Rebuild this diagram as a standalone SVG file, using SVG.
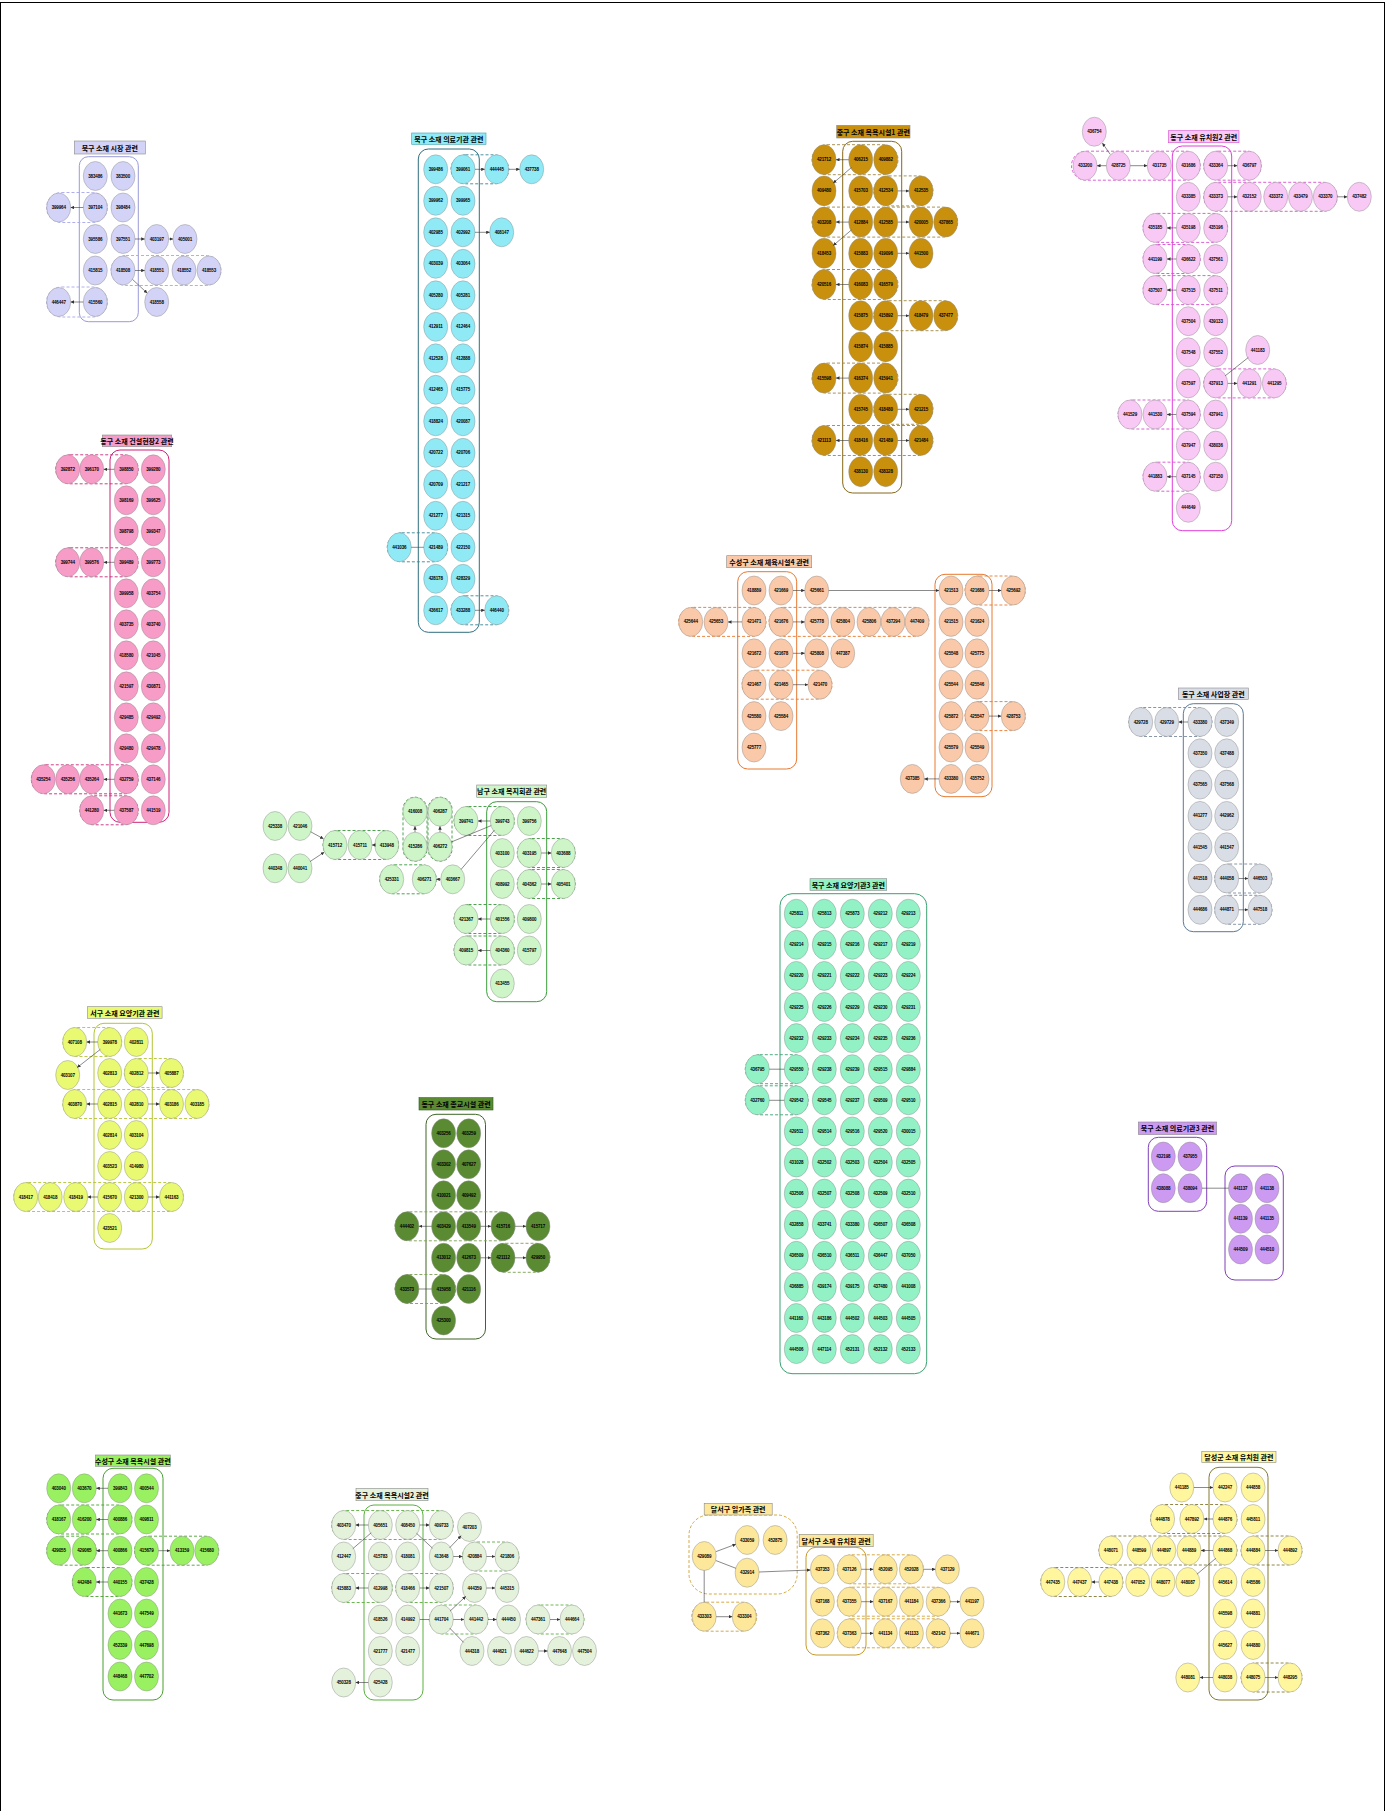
<svg xmlns="http://www.w3.org/2000/svg" width="1392" height="1811" viewBox="0 0 1392 1811">
<style>
text{font-family:"Liberation Sans",Arial,sans-serif;font-size:4.5px;font-weight:700;text-anchor:middle;dominant-baseline:central;fill:#000;letter-spacing:-0.15px}
text.lt{font-family:"Noto Sans CJK KR","Noto Sans",sans-serif;font-size:7px;font-weight:700;letter-spacing:0}
ellipse{stroke:#8c8c8c;stroke-width:0.45}
.lb{stroke:#8a8a8a;stroke-width:0.6}
.sr{fill:none;stroke-width:1}
.dr{fill:none;stroke-width:0.9;stroke-dasharray:3 2}
.e{stroke:#3a3a3a;stroke-width:0.6;fill:none}
.a{marker-end:url(#ar)}
.k1 ellipse,.k1 .lb{fill:#d3d3f7}.k1 .sr{stroke:#9a9ad8}.k1 .dr{stroke:#a6a6ec}
.k2 ellipse,.k2 .lb{fill:#8feaf6}.k2 .sr{stroke:#2f6f7f}.k2 .dr{stroke:#3a8696}.k2 .lb{stroke:#3aa0b0}
.k3 ellipse,.k3 .lb{fill:#c8900c}.k3 .sr{stroke:#86681a}.k3 .dr{stroke:#a08844}
.k4 ellipse,.k4 .lb{fill:#f9c9f5}.k4 .sr{stroke:#e03ed8}.k4 .dr{stroke:#d84ed0}.k4 .lb{stroke:#d84ed0}
.k5 ellipse,.k5 .lb{fill:#f79bc7}.k5 .sr{stroke:#d0207a}.k5 .dr{stroke:#c8287a}
.k6 ellipse,.k6 .lb{fill:#fac9a9}.k6 .sr{stroke:#e8782e}.k6 .dr{stroke:#e8782e}
.k7 ellipse,.k7 .lb{fill:#d9dde6}.k7 .sr{stroke:#5a7898}.k7 .dr{stroke:#7a8aa0}
.k8 ellipse,.k8 .lb{fill:#cdf5c8}.k8 .sr{stroke:#3a9a3a}.k8 .dr{stroke:#3a9a3a}
.k9 ellipse,.k9 .lb{fill:#92f2c6}.k9 .sr{stroke:#3aa070}.k9 .dr{stroke:#3aa070}
.k10 ellipse,.k10 .lb{fill:#e9f972}.k10 .sr{stroke:#b4c438}.k10 .dr{stroke:#b4c438}
.k11 ellipse,.k11 .lb{fill:#5a8a32}.k11 .sr{stroke:#3e6626}.k11 .dr{stroke:#7aa050}
.k12 ellipse,.k12 .lb{fill:#cc9af0}.k12 .sr{stroke:#8040b8}.k12 .dr{stroke:#8040b8}
.k13 ellipse,.k13 .lb{fill:#99f061}.k13 .sr{stroke:#48a030}.k13 .dr{stroke:#48a030}
.k14 ellipse,.k14 .lb{fill:#e4f2dc}.k14 .sr{stroke:#5ab040}.k14 .dr{stroke:#5ab040}
.k15 ellipse,.k15 .lb{fill:#fde79b}.k15 .sr{stroke:#c89a28}.k15 .dr{stroke:#d0a030}
.k16 ellipse,.k16 .lb{fill:#fff69e}.k16 .sr{stroke:#857a32}.k16 .dr{stroke:#857a32}
</style>
<defs>
<marker id="ar" viewBox="0 0 6 6" refX="6" refY="3" markerWidth="3.5" markerHeight="3.5" orient="auto" markerUnits="userSpaceOnUse"><path d="M0,0L6,3L0,6z" fill="#333"/></marker>
</defs>
<rect x="0" y="0" width="1392" height="1811" fill="#ffffff"/>
<rect x="0.5" y="2.5" width="1384" height="1830" fill="none" stroke="#000" stroke-width="1"/>

<g id="cluster-1" class="k1">
<rect class="sr" x="79.3" y="156.7" width="59" height="165" rx="9"/>
<rect class="dr" x="46.5" y="192.5" width="61" height="30" rx="15"/>
<rect class="dr" x="111" y="255.5" width="110" height="30" rx="15"/>
<rect class="dr" x="46.5" y="287" width="61" height="30" rx="15"/>
<rect class="lb" x="74.3" y="141" width="71" height="13"/><text class="lt" x="109.8" y="147.5">북구 소재 시장 관련</text>
<g id="c1-383486"><ellipse cx="95.3" cy="176" rx="12" ry="14.5"/><text x="95.3" y="176">383486</text></g>
<g id="c1-383500"><ellipse cx="123" cy="176" rx="12" ry="14.5"/><text x="123" y="176">383500</text></g>
<g id="c1-399964"><ellipse cx="58.7" cy="207.5" rx="12" ry="14.5"/><text x="58.7" y="207.5">399964</text></g>
<g id="c1-397104"><ellipse cx="95.3" cy="207.5" rx="12" ry="14.5"/><text x="95.3" y="207.5">397104</text></g>
<g id="c1-398484"><ellipse cx="123" cy="207.5" rx="12" ry="14.5"/><text x="123" y="207.5">398484</text></g>
<g id="c1-395586"><ellipse cx="95.3" cy="239" rx="12" ry="14.5"/><text x="95.3" y="239">395586</text></g>
<g id="c1-397551"><ellipse cx="123" cy="239" rx="12" ry="14.5"/><text x="123" y="239">397551</text></g>
<g id="c1-403197"><ellipse cx="156.7" cy="239" rx="12" ry="14.5"/><text x="156.7" y="239">403197</text></g>
<g id="c1-405001"><ellipse cx="185" cy="239" rx="12" ry="14.5"/><text x="185" y="239">405001</text></g>
<g id="c1-415815"><ellipse cx="95.3" cy="270.5" rx="12" ry="14.5"/><text x="95.3" y="270.5">415815</text></g>
<g id="c1-418508"><ellipse cx="123" cy="270.5" rx="12" ry="14.5"/><text x="123" y="270.5">418508</text></g>
<g id="c1-418551"><ellipse cx="156.7" cy="270.5" rx="12" ry="14.5"/><text x="156.7" y="270.5">418551</text></g>
<g id="c1-418552"><ellipse cx="184" cy="270.5" rx="12" ry="14.5"/><text x="184" y="270.5">418552</text></g>
<g id="c1-418553"><ellipse cx="209" cy="270.5" rx="12" ry="14.5"/><text x="209" y="270.5">418553</text></g>
<g id="c1-446447"><ellipse cx="58.7" cy="302" rx="12" ry="14.5"/><text x="58.7" y="302">446447</text></g>
<g id="c1-415560"><ellipse cx="95.3" cy="302" rx="12" ry="14.5"/><text x="95.3" y="302">415560</text></g>
<g id="c1-418558"><ellipse cx="156.7" cy="302" rx="12" ry="14.5"/><text x="156.7" y="302">418558</text></g>
</g>

<g id="cluster-2" class="k2">
<rect class="sr" x="418.3" y="149" width="61" height="483.3" rx="10"/>
<rect class="dr" x="451" y="154.8" width="57.7" height="29" rx="14.5"/>
<rect class="dr" x="387.3" y="532.8" width="60.4" height="29" rx="14.5"/>
<rect class="dr" x="451" y="595.8" width="57.7" height="29" rx="14.5"/>
<rect class="lb" x="411.7" y="133" width="74.3" height="11.3"/><text class="lt" x="448.8" y="138.7">북구 소재 의료기관 관련</text>
<g id="c2-399486"><ellipse cx="435.7" cy="169.3" rx="12" ry="14.5"/><text x="435.7" y="169.3">399486</text></g>
<g id="c2-399061"><ellipse cx="463" cy="169.3" rx="12" ry="14.5"/><text x="463" y="169.3">399061</text></g>
<g id="c2-444445"><ellipse cx="496.7" cy="169.3" rx="12" ry="14.5"/><text x="496.7" y="169.3">444445</text></g>
<g id="c2-437738"><ellipse cx="531.7" cy="169.3" rx="12" ry="14.5"/><text x="531.7" y="169.3">437738</text></g>
<g id="c2-399962"><ellipse cx="435.7" cy="200.8" rx="12" ry="14.5"/><text x="435.7" y="200.8">399962</text></g>
<g id="c2-399965"><ellipse cx="463" cy="200.8" rx="12" ry="14.5"/><text x="463" y="200.8">399965</text></g>
<g id="c2-402985"><ellipse cx="435.7" cy="232.3" rx="12" ry="14.5"/><text x="435.7" y="232.3">402985</text></g>
<g id="c2-402992"><ellipse cx="463" cy="232.3" rx="12" ry="14.5"/><text x="463" y="232.3">402992</text></g>
<g id="c2-408147"><ellipse cx="501.7" cy="232.3" rx="12" ry="14.5"/><text x="501.7" y="232.3">408147</text></g>
<g id="c2-403039"><ellipse cx="435.7" cy="263.8" rx="12" ry="14.5"/><text x="435.7" y="263.8">403039</text></g>
<g id="c2-403064"><ellipse cx="463" cy="263.8" rx="12" ry="14.5"/><text x="463" y="263.8">403064</text></g>
<g id="c2-405280"><ellipse cx="435.7" cy="295.3" rx="12" ry="14.5"/><text x="435.7" y="295.3">405280</text></g>
<g id="c2-405281"><ellipse cx="463" cy="295.3" rx="12" ry="14.5"/><text x="463" y="295.3">405281</text></g>
<g id="c2-412911"><ellipse cx="435.7" cy="326.8" rx="12" ry="14.5"/><text x="435.7" y="326.8">412911</text></g>
<g id="c2-412464"><ellipse cx="463" cy="326.8" rx="12" ry="14.5"/><text x="463" y="326.8">412464</text></g>
<g id="c2-412528"><ellipse cx="435.7" cy="358.3" rx="12" ry="14.5"/><text x="435.7" y="358.3">412528</text></g>
<g id="c2-412888"><ellipse cx="463" cy="358.3" rx="12" ry="14.5"/><text x="463" y="358.3">412888</text></g>
<g id="c2-412465"><ellipse cx="435.7" cy="389.8" rx="12" ry="14.5"/><text x="435.7" y="389.8">412465</text></g>
<g id="c2-415775"><ellipse cx="463" cy="389.8" rx="12" ry="14.5"/><text x="463" y="389.8">415775</text></g>
<g id="c2-418824"><ellipse cx="435.7" cy="421.3" rx="12" ry="14.5"/><text x="435.7" y="421.3">418824</text></g>
<g id="c2-420087"><ellipse cx="463" cy="421.3" rx="12" ry="14.5"/><text x="463" y="421.3">420087</text></g>
<g id="c2-420722"><ellipse cx="435.7" cy="452.8" rx="12" ry="14.5"/><text x="435.7" y="452.8">420722</text></g>
<g id="c2-420706"><ellipse cx="463" cy="452.8" rx="12" ry="14.5"/><text x="463" y="452.8">420706</text></g>
<g id="c2-420709"><ellipse cx="435.7" cy="484.3" rx="12" ry="14.5"/><text x="435.7" y="484.3">420709</text></g>
<g id="c2-421217"><ellipse cx="463" cy="484.3" rx="12" ry="14.5"/><text x="463" y="484.3">421217</text></g>
<g id="c2-421277"><ellipse cx="435.7" cy="515.8" rx="12" ry="14.5"/><text x="435.7" y="515.8">421277</text></g>
<g id="c2-421315"><ellipse cx="463" cy="515.8" rx="12" ry="14.5"/><text x="463" y="515.8">421315</text></g>
<g id="c2-441036"><ellipse cx="399.3" cy="547.3" rx="12" ry="14.5"/><text x="399.3" y="547.3">441036</text></g>
<g id="c2-421489"><ellipse cx="435.7" cy="547.3" rx="12" ry="14.5"/><text x="435.7" y="547.3">421489</text></g>
<g id="c2-422150"><ellipse cx="463" cy="547.3" rx="12" ry="14.5"/><text x="463" y="547.3">422150</text></g>
<g id="c2-428178"><ellipse cx="435.7" cy="578.8" rx="12" ry="14.5"/><text x="435.7" y="578.8">428178</text></g>
<g id="c2-428329"><ellipse cx="463" cy="578.8" rx="12" ry="14.5"/><text x="463" y="578.8">428329</text></g>
<g id="c2-436617"><ellipse cx="435.7" cy="610.3" rx="12" ry="14.5"/><text x="435.7" y="610.3">436617</text></g>
<g id="c2-433288"><ellipse cx="463" cy="610.3" rx="12" ry="14.5"/><text x="463" y="610.3">433288</text></g>
<g id="c2-446440"><ellipse cx="496.7" cy="610.3" rx="12" ry="14.5"/><text x="496.7" y="610.3">446440</text></g>
</g>

<g id="cluster-3" class="k3">
<rect class="sr" x="842.7" y="141.3" width="59" height="351.7" rx="10"/>
<rect class="dr" x="812" y="144.7" width="86" height="30" rx="15"/>
<rect class="dr" x="873.7" y="175.9" width="59.3" height="30" rx="15"/>
<rect class="dr" x="812" y="207.1" width="145.7" height="30" rx="15"/>
<rect class="dr" x="812" y="269.5" width="86" height="30" rx="15"/>
<rect class="dr" x="873.7" y="300.7" width="84" height="30" rx="15"/>
<rect class="dr" x="812" y="363.1" width="86" height="30" rx="15"/>
<rect class="dr" x="873.7" y="394.3" width="59.3" height="30" rx="15"/>
<rect class="dr" x="812" y="425.5" width="121" height="30" rx="15"/>
<rect class="lb" x="836.7" y="125.3" width="73.3" height="12.7"/><text class="lt" x="873.3" y="131.7">중구 소재 목욕시설1 관련</text>
<g id="c3-421712"><ellipse cx="824" cy="159.7" rx="12" ry="15"/><text x="824" y="159.7">421712</text></g>
<g id="c3-406215"><ellipse cx="860.7" cy="159.7" rx="12" ry="15"/><text x="860.7" y="159.7">406215</text></g>
<g id="c3-409882"><ellipse cx="885.7" cy="159.7" rx="12" ry="15"/><text x="885.7" y="159.7">409882</text></g>
<g id="c3-409480"><ellipse cx="824" cy="190.9" rx="12" ry="15"/><text x="824" y="190.9">409480</text></g>
<g id="c3-415703"><ellipse cx="860.7" cy="190.9" rx="12" ry="15"/><text x="860.7" y="190.9">415703</text></g>
<g id="c3-412534"><ellipse cx="885.7" cy="190.9" rx="12" ry="15"/><text x="885.7" y="190.9">412534</text></g>
<g id="c3-412535"><ellipse cx="921" cy="190.9" rx="12" ry="15"/><text x="921" y="190.9">412535</text></g>
<g id="c3-403208"><ellipse cx="824" cy="222.1" rx="12" ry="15"/><text x="824" y="222.1">403208</text></g>
<g id="c3-412884"><ellipse cx="860.7" cy="222.1" rx="12" ry="15"/><text x="860.7" y="222.1">412884</text></g>
<g id="c3-412585"><ellipse cx="885.7" cy="222.1" rx="12" ry="15"/><text x="885.7" y="222.1">412585</text></g>
<g id="c3-420005"><ellipse cx="921" cy="222.1" rx="12" ry="15"/><text x="921" y="222.1">420005</text></g>
<g id="c3-437865"><ellipse cx="945.7" cy="222.1" rx="12" ry="15"/><text x="945.7" y="222.1">437865</text></g>
<g id="c3-418453"><ellipse cx="824" cy="253.3" rx="12" ry="15"/><text x="824" y="253.3">418453</text></g>
<g id="c3-415883"><ellipse cx="860.7" cy="253.3" rx="12" ry="15"/><text x="860.7" y="253.3">415883</text></g>
<g id="c3-419096"><ellipse cx="885.7" cy="253.3" rx="12" ry="15"/><text x="885.7" y="253.3">419096</text></g>
<g id="c3-441500"><ellipse cx="921" cy="253.3" rx="12" ry="15"/><text x="921" y="253.3">441500</text></g>
<g id="c3-420516"><ellipse cx="824" cy="284.5" rx="12" ry="15"/><text x="824" y="284.5">420516</text></g>
<g id="c3-416083"><ellipse cx="860.7" cy="284.5" rx="12" ry="15"/><text x="860.7" y="284.5">416083</text></g>
<g id="c3-416579"><ellipse cx="885.7" cy="284.5" rx="12" ry="15"/><text x="885.7" y="284.5">416579</text></g>
<g id="c3-415875"><ellipse cx="860.7" cy="315.7" rx="12" ry="15"/><text x="860.7" y="315.7">415875</text></g>
<g id="c3-415892"><ellipse cx="885.7" cy="315.7" rx="12" ry="15"/><text x="885.7" y="315.7">415892</text></g>
<g id="c3-418479"><ellipse cx="921" cy="315.7" rx="12" ry="15"/><text x="921" y="315.7">418479</text></g>
<g id="c3-437477"><ellipse cx="945.7" cy="315.7" rx="12" ry="15"/><text x="945.7" y="315.7">437477</text></g>
<g id="c3-415874"><ellipse cx="860.7" cy="346.9" rx="12" ry="15"/><text x="860.7" y="346.9">415874</text></g>
<g id="c3-415885"><ellipse cx="885.7" cy="346.9" rx="12" ry="15"/><text x="885.7" y="346.9">415885</text></g>
<g id="c3-415598"><ellipse cx="824" cy="378.1" rx="12" ry="15"/><text x="824" y="378.1">415598</text></g>
<g id="c3-416374"><ellipse cx="860.7" cy="378.1" rx="12" ry="15"/><text x="860.7" y="378.1">416374</text></g>
<g id="c3-415941"><ellipse cx="885.7" cy="378.1" rx="12" ry="15"/><text x="885.7" y="378.1">415941</text></g>
<g id="c3-415745"><ellipse cx="860.7" cy="409.3" rx="12" ry="15"/><text x="860.7" y="409.3">415745</text></g>
<g id="c3-418480"><ellipse cx="885.7" cy="409.3" rx="12" ry="15"/><text x="885.7" y="409.3">418480</text></g>
<g id="c3-421215"><ellipse cx="921" cy="409.3" rx="12" ry="15"/><text x="921" y="409.3">421215</text></g>
<g id="c3-421113"><ellipse cx="824" cy="440.5" rx="12" ry="15"/><text x="824" y="440.5">421113</text></g>
<g id="c3-418416"><ellipse cx="860.7" cy="440.5" rx="12" ry="15"/><text x="860.7" y="440.5">418416</text></g>
<g id="c3-421489"><ellipse cx="885.7" cy="440.5" rx="12" ry="15"/><text x="885.7" y="440.5">421489</text></g>
<g id="c3-421484"><ellipse cx="921" cy="440.5" rx="12" ry="15"/><text x="921" y="440.5">421484</text></g>
<g id="c3-438130"><ellipse cx="860.7" cy="471.7" rx="12" ry="15"/><text x="860.7" y="471.7">438130</text></g>
<g id="c3-438328"><ellipse cx="885.7" cy="471.7" rx="12" ry="15"/><text x="885.7" y="471.7">438328</text></g>
</g>

<g id="cluster-4" class="k4">
<rect class="sr" x="1172.3" y="146" width="59.4" height="384.7" rx="10"/>
<rect class="dr" x="1071.5" y="151.2" width="128.8" height="29" rx="14.5"/>
<rect class="dr" x="1203.7" y="151.2" width="57.6" height="29" rx="14.5"/>
<rect class="dr" x="1203.7" y="182.3" width="133.6" height="29" rx="14.5"/>
<rect class="dr" x="1143" y="213.4" width="84.7" height="29" rx="14.5"/>
<rect class="dr" x="1143" y="244.5" width="57.3" height="29" rx="14.5"/>
<rect class="dr" x="1143" y="275.6" width="84.7" height="29" rx="14.5"/>
<rect class="dr" x="1203.7" y="368.9" width="82.6" height="29" rx="14.5"/>
<rect class="dr" x="1118" y="400" width="82.3" height="29" rx="14.5"/>
<rect class="dr" x="1143" y="462.2" width="57.3" height="29" rx="14.5"/>
<rect class="lb" x="1168.3" y="130.7" width="70.7" height="12"/><text class="lt" x="1203.7" y="136.7">동구 소재 유치원2 관련</text>
<g id="c4-436754"><ellipse cx="1094.3" cy="131.7" rx="12" ry="14.5"/><text x="1094.3" y="131.7">436754</text></g>
<g id="c4-433200"><ellipse cx="1085" cy="165.7" rx="12" ry="14.5"/><text x="1085" y="165.7">433200</text></g>
<g id="c4-428725"><ellipse cx="1118.3" cy="165.7" rx="12" ry="14.5"/><text x="1118.3" y="165.7">428725</text></g>
<g id="c4-431735"><ellipse cx="1159.3" cy="165.7" rx="12" ry="14.5"/><text x="1159.3" y="165.7">431735</text></g>
<g id="c4-431686"><ellipse cx="1188.3" cy="165.7" rx="12" ry="14.5"/><text x="1188.3" y="165.7">431686</text></g>
<g id="c4-433364"><ellipse cx="1215.7" cy="165.7" rx="12" ry="14.5"/><text x="1215.7" y="165.7">433364</text></g>
<g id="c4-436797"><ellipse cx="1249.3" cy="165.7" rx="12" ry="14.5"/><text x="1249.3" y="165.7">436797</text></g>
<g id="c4-433385"><ellipse cx="1188.3" cy="196.8" rx="12" ry="14.5"/><text x="1188.3" y="196.8">433385</text></g>
<g id="c4-433373"><ellipse cx="1215.7" cy="196.8" rx="12" ry="14.5"/><text x="1215.7" y="196.8">433373</text></g>
<g id="c4-432152"><ellipse cx="1249.3" cy="196.8" rx="12" ry="14.5"/><text x="1249.3" y="196.8">432152</text></g>
<g id="c4-433372"><ellipse cx="1275.7" cy="196.8" rx="12" ry="14.5"/><text x="1275.7" y="196.8">433372</text></g>
<g id="c4-433479"><ellipse cx="1300.5" cy="196.8" rx="12" ry="14.5"/><text x="1300.5" y="196.8">433479</text></g>
<g id="c4-433370"><ellipse cx="1325.3" cy="196.8" rx="12" ry="14.5"/><text x="1325.3" y="196.8">433370</text></g>
<g id="c4-437482"><ellipse cx="1359.3" cy="196.8" rx="12" ry="14.5"/><text x="1359.3" y="196.8">437482</text></g>
<g id="c4-435185"><ellipse cx="1155" cy="227.9" rx="12" ry="14.5"/><text x="1155" y="227.9">435185</text></g>
<g id="c4-435198"><ellipse cx="1188.3" cy="227.9" rx="12" ry="14.5"/><text x="1188.3" y="227.9">435198</text></g>
<g id="c4-435196"><ellipse cx="1215.7" cy="227.9" rx="12" ry="14.5"/><text x="1215.7" y="227.9">435196</text></g>
<g id="c4-441199"><ellipse cx="1155" cy="259" rx="12" ry="14.5"/><text x="1155" y="259">441199</text></g>
<g id="c4-436622"><ellipse cx="1188.3" cy="259" rx="12" ry="14.5"/><text x="1188.3" y="259">436622</text></g>
<g id="c4-437561"><ellipse cx="1215.7" cy="259" rx="12" ry="14.5"/><text x="1215.7" y="259">437561</text></g>
<g id="c4-437507"><ellipse cx="1155" cy="290.1" rx="12" ry="14.5"/><text x="1155" y="290.1">437507</text></g>
<g id="c4-437515"><ellipse cx="1188.3" cy="290.1" rx="12" ry="14.5"/><text x="1188.3" y="290.1">437515</text></g>
<g id="c4-437511"><ellipse cx="1215.7" cy="290.1" rx="12" ry="14.5"/><text x="1215.7" y="290.1">437511</text></g>
<g id="c4-437504"><ellipse cx="1188.3" cy="321.2" rx="12" ry="14.5"/><text x="1188.3" y="321.2">437504</text></g>
<g id="c4-439133"><ellipse cx="1215.7" cy="321.2" rx="12" ry="14.5"/><text x="1215.7" y="321.2">439133</text></g>
<g id="c4-437548"><ellipse cx="1188.3" cy="352.3" rx="12" ry="14.5"/><text x="1188.3" y="352.3">437548</text></g>
<g id="c4-437552"><ellipse cx="1215.7" cy="352.3" rx="12" ry="14.5"/><text x="1215.7" y="352.3">437552</text></g>
<g id="c4-441183"><ellipse cx="1257.7" cy="350" rx="12" ry="14.5"/><text x="1257.7" y="350">441183</text></g>
<g id="c4-437597"><ellipse cx="1188.3" cy="383.4" rx="12" ry="14.5"/><text x="1188.3" y="383.4">437597</text></g>
<g id="c4-437913"><ellipse cx="1215.7" cy="383.4" rx="12" ry="14.5"/><text x="1215.7" y="383.4">437913</text></g>
<g id="c4-441291"><ellipse cx="1249.3" cy="383.4" rx="12" ry="14.5"/><text x="1249.3" y="383.4">441291</text></g>
<g id="c4-441295"><ellipse cx="1274.3" cy="383.4" rx="12" ry="14.5"/><text x="1274.3" y="383.4">441295</text></g>
<g id="c4-441529"><ellipse cx="1130" cy="414.5" rx="12" ry="14.5"/><text x="1130" y="414.5">441529</text></g>
<g id="c4-441530"><ellipse cx="1155" cy="414.5" rx="12" ry="14.5"/><text x="1155" y="414.5">441530</text></g>
<g id="c4-437594"><ellipse cx="1188.3" cy="414.5" rx="12" ry="14.5"/><text x="1188.3" y="414.5">437594</text></g>
<g id="c4-437941"><ellipse cx="1215.7" cy="414.5" rx="12" ry="14.5"/><text x="1215.7" y="414.5">437941</text></g>
<g id="c4-437947"><ellipse cx="1188.3" cy="445.6" rx="12" ry="14.5"/><text x="1188.3" y="445.6">437947</text></g>
<g id="c4-438036"><ellipse cx="1215.7" cy="445.6" rx="12" ry="14.5"/><text x="1215.7" y="445.6">438036</text></g>
<g id="c4-441883"><ellipse cx="1155" cy="476.7" rx="12" ry="14.5"/><text x="1155" y="476.7">441883</text></g>
<g id="c4-437145"><ellipse cx="1188.3" cy="476.7" rx="12" ry="14.5"/><text x="1188.3" y="476.7">437145</text></g>
<g id="c4-437150"><ellipse cx="1215.7" cy="476.7" rx="12" ry="14.5"/><text x="1215.7" y="476.7">437150</text></g>
<g id="c4-444649"><ellipse cx="1188.3" cy="507.8" rx="12" ry="14.5"/><text x="1188.3" y="507.8">444649</text></g>
</g>

<g id="cluster-5" class="k5">
<rect class="sr" x="110" y="450" width="59" height="372.3" rx="10"/>
<rect class="dr" x="55.7" y="454.8" width="82.6" height="29" rx="14.5"/>
<rect class="dr" x="55.7" y="547.8" width="82.6" height="29" rx="14.5"/>
<rect class="dr" x="31.3" y="764.8" width="107" height="29" rx="14.5"/>
<rect class="dr" x="79.7" y="795.8" width="58.6" height="29" rx="14.5"/>
<rect class="lb" x="102.3" y="435" width="69.4" height="11.7"/><text class="lt" x="137" y="440.9">동구 소재 건설현장2 관련</text>
<g id="c5-392872"><ellipse cx="67.7" cy="469.3" rx="12" ry="14.5"/><text x="67.7" y="469.3">392872</text></g>
<g id="c5-396170"><ellipse cx="91.7" cy="469.3" rx="12" ry="14.5"/><text x="91.7" y="469.3">396170</text></g>
<g id="c5-398850"><ellipse cx="126.3" cy="469.3" rx="12" ry="14.5"/><text x="126.3" y="469.3">398850</text></g>
<g id="c5-399280"><ellipse cx="153.3" cy="469.3" rx="12" ry="14.5"/><text x="153.3" y="469.3">399280</text></g>
<g id="c5-398169"><ellipse cx="126.3" cy="500.3" rx="12" ry="14.5"/><text x="126.3" y="500.3">398169</text></g>
<g id="c5-399625"><ellipse cx="153.3" cy="500.3" rx="12" ry="14.5"/><text x="153.3" y="500.3">399625</text></g>
<g id="c5-398798"><ellipse cx="126.3" cy="531.3" rx="12" ry="14.5"/><text x="126.3" y="531.3">398798</text></g>
<g id="c5-399347"><ellipse cx="153.3" cy="531.3" rx="12" ry="14.5"/><text x="153.3" y="531.3">399347</text></g>
<g id="c5-399744"><ellipse cx="67.7" cy="562.3" rx="12" ry="14.5"/><text x="67.7" y="562.3">399744</text></g>
<g id="c5-399576"><ellipse cx="91.7" cy="562.3" rx="12" ry="14.5"/><text x="91.7" y="562.3">399576</text></g>
<g id="c5-399489"><ellipse cx="126.3" cy="562.3" rx="12" ry="14.5"/><text x="126.3" y="562.3">399489</text></g>
<g id="c5-399773"><ellipse cx="153.3" cy="562.3" rx="12" ry="14.5"/><text x="153.3" y="562.3">399773</text></g>
<g id="c5-399958"><ellipse cx="126.3" cy="593.3" rx="12" ry="14.5"/><text x="126.3" y="593.3">399958</text></g>
<g id="c5-403754"><ellipse cx="153.3" cy="593.3" rx="12" ry="14.5"/><text x="153.3" y="593.3">403754</text></g>
<g id="c5-403735"><ellipse cx="126.3" cy="624.3" rx="12" ry="14.5"/><text x="126.3" y="624.3">403735</text></g>
<g id="c5-403740"><ellipse cx="153.3" cy="624.3" rx="12" ry="14.5"/><text x="153.3" y="624.3">403740</text></g>
<g id="c5-418580"><ellipse cx="126.3" cy="655.3" rx="12" ry="14.5"/><text x="126.3" y="655.3">418580</text></g>
<g id="c5-421045"><ellipse cx="153.3" cy="655.3" rx="12" ry="14.5"/><text x="153.3" y="655.3">421045</text></g>
<g id="c5-421597"><ellipse cx="126.3" cy="686.3" rx="12" ry="14.5"/><text x="126.3" y="686.3">421597</text></g>
<g id="c5-430871"><ellipse cx="153.3" cy="686.3" rx="12" ry="14.5"/><text x="153.3" y="686.3">430871</text></g>
<g id="c5-429485"><ellipse cx="126.3" cy="717.3" rx="12" ry="14.5"/><text x="126.3" y="717.3">429485</text></g>
<g id="c5-429492"><ellipse cx="153.3" cy="717.3" rx="12" ry="14.5"/><text x="153.3" y="717.3">429492</text></g>
<g id="c5-429480"><ellipse cx="126.3" cy="748.3" rx="12" ry="14.5"/><text x="126.3" y="748.3">429480</text></g>
<g id="c5-429478"><ellipse cx="153.3" cy="748.3" rx="12" ry="14.5"/><text x="153.3" y="748.3">429478</text></g>
<g id="c5-435254"><ellipse cx="43.3" cy="779.3" rx="12" ry="14.5"/><text x="43.3" y="779.3">435254</text></g>
<g id="c5-435256"><ellipse cx="67.7" cy="779.3" rx="12" ry="14.5"/><text x="67.7" y="779.3">435256</text></g>
<g id="c5-435264"><ellipse cx="91.7" cy="779.3" rx="12" ry="14.5"/><text x="91.7" y="779.3">435264</text></g>
<g id="c5-432759"><ellipse cx="126.3" cy="779.3" rx="12" ry="14.5"/><text x="126.3" y="779.3">432759</text></g>
<g id="c5-437146"><ellipse cx="153.3" cy="779.3" rx="12" ry="14.5"/><text x="153.3" y="779.3">437146</text></g>
<g id="c5-441280"><ellipse cx="91.7" cy="810.3" rx="12" ry="14.5"/><text x="91.7" y="810.3">441280</text></g>
<g id="c5-437587"><ellipse cx="126.3" cy="810.3" rx="12" ry="14.5"/><text x="126.3" y="810.3">437587</text></g>
<g id="c5-441519"><ellipse cx="153.3" cy="810.3" rx="12" ry="14.5"/><text x="153.3" y="810.3">441519</text></g>
</g>

<g id="cluster-6" class="k6">
<rect class="sr" x="737.7" y="571.7" width="59" height="197.3" rx="10"/>
<rect class="sr" x="935" y="574.3" width="57" height="222.4" rx="10"/>
<rect class="dr" x="965" y="576" width="60.3" height="29" rx="14.5"/>
<rect class="dr" x="678.7" y="607.4" width="87.3" height="29" rx="14.5"/>
<rect class="dr" x="769" y="607.4" width="160" height="29" rx="14.5"/>
<rect class="dr" x="742" y="670.2" width="90" height="29" rx="14.5"/>
<rect class="dr" x="965" y="701.6" width="60.3" height="29" rx="14.5"/>
<rect class="lb" x="726.7" y="555.7" width="85" height="12"/><text class="lt" x="769.2" y="561.7">수성구 소재 체육시설4 관련</text>
<g id="c6-418889"><ellipse cx="754" cy="590.5" rx="12" ry="14.5"/><text x="754" y="590.5">418889</text></g>
<g id="c6-421669"><ellipse cx="781" cy="590.5" rx="12" ry="14.5"/><text x="781" y="590.5">421669</text></g>
<g id="c6-425661"><ellipse cx="816.7" cy="590.5" rx="12" ry="14.5"/><text x="816.7" y="590.5">425661</text></g>
<g id="c6-425644"><ellipse cx="690.7" cy="621.9" rx="12" ry="14.5"/><text x="690.7" y="621.9">425644</text></g>
<g id="c6-425653"><ellipse cx="716" cy="621.9" rx="12" ry="14.5"/><text x="716" y="621.9">425653</text></g>
<g id="c6-421471"><ellipse cx="754" cy="621.9" rx="12" ry="14.5"/><text x="754" y="621.9">421471</text></g>
<g id="c6-421676"><ellipse cx="781" cy="621.9" rx="12" ry="14.5"/><text x="781" y="621.9">421676</text></g>
<g id="c6-425778"><ellipse cx="816.7" cy="621.9" rx="12" ry="14.5"/><text x="816.7" y="621.9">425778</text></g>
<g id="c6-425804"><ellipse cx="842.7" cy="621.9" rx="12" ry="14.5"/><text x="842.7" y="621.9">425804</text></g>
<g id="c6-425806"><ellipse cx="869" cy="621.9" rx="12" ry="14.5"/><text x="869" y="621.9">425806</text></g>
<g id="c6-437294"><ellipse cx="893" cy="621.9" rx="12" ry="14.5"/><text x="893" y="621.9">437294</text></g>
<g id="c6-447409"><ellipse cx="917" cy="621.9" rx="12" ry="14.5"/><text x="917" y="621.9">447409</text></g>
<g id="c6-421672"><ellipse cx="754" cy="653.3" rx="12" ry="14.5"/><text x="754" y="653.3">421672</text></g>
<g id="c6-421678"><ellipse cx="781" cy="653.3" rx="12" ry="14.5"/><text x="781" y="653.3">421678</text></g>
<g id="c6-425808"><ellipse cx="816.7" cy="653.3" rx="12" ry="14.5"/><text x="816.7" y="653.3">425808</text></g>
<g id="c6-447387"><ellipse cx="842.7" cy="653.3" rx="12" ry="14.5"/><text x="842.7" y="653.3">447387</text></g>
<g id="c6-421467"><ellipse cx="754" cy="684.7" rx="12" ry="14.5"/><text x="754" y="684.7">421467</text></g>
<g id="c6-421465"><ellipse cx="781" cy="684.7" rx="12" ry="14.5"/><text x="781" y="684.7">421465</text></g>
<g id="c6-421470"><ellipse cx="820" cy="684.7" rx="12" ry="14.5"/><text x="820" y="684.7">421470</text></g>
<g id="c6-425580"><ellipse cx="754" cy="716.1" rx="12" ry="14.5"/><text x="754" y="716.1">425580</text></g>
<g id="c6-425584"><ellipse cx="781" cy="716.1" rx="12" ry="14.5"/><text x="781" y="716.1">425584</text></g>
<g id="c6-425777"><ellipse cx="754" cy="747.5" rx="12" ry="14.5"/><text x="754" y="747.5">425777</text></g>
<g id="c6-421513"><ellipse cx="951" cy="590.5" rx="12" ry="14.5"/><text x="951" y="590.5">421513</text></g>
<g id="c6-421686"><ellipse cx="977" cy="590.5" rx="12" ry="14.5"/><text x="977" y="590.5">421686</text></g>
<g id="c6-425692"><ellipse cx="1013.3" cy="590.5" rx="12" ry="14.5"/><text x="1013.3" y="590.5">425692</text></g>
<g id="c6-421515"><ellipse cx="951" cy="621.9" rx="12" ry="14.5"/><text x="951" y="621.9">421515</text></g>
<g id="c6-421624"><ellipse cx="977" cy="621.9" rx="12" ry="14.5"/><text x="977" y="621.9">421624</text></g>
<g id="c6-425548"><ellipse cx="951" cy="653.3" rx="12" ry="14.5"/><text x="951" y="653.3">425548</text></g>
<g id="c6-425775"><ellipse cx="977" cy="653.3" rx="12" ry="14.5"/><text x="977" y="653.3">425775</text></g>
<g id="c6-425544"><ellipse cx="951" cy="684.7" rx="12" ry="14.5"/><text x="951" y="684.7">425544</text></g>
<g id="c6-425546"><ellipse cx="977" cy="684.7" rx="12" ry="14.5"/><text x="977" y="684.7">425546</text></g>
<g id="c6-425872"><ellipse cx="951" cy="716.1" rx="12" ry="14.5"/><text x="951" y="716.1">425872</text></g>
<g id="c6-425547"><ellipse cx="977" cy="716.1" rx="12" ry="14.5"/><text x="977" y="716.1">425547</text></g>
<g id="c6-428753"><ellipse cx="1013.3" cy="716.1" rx="12" ry="14.5"/><text x="1013.3" y="716.1">428753</text></g>
<g id="c6-425579"><ellipse cx="951" cy="747.5" rx="12" ry="14.5"/><text x="951" y="747.5">425579</text></g>
<g id="c6-425549"><ellipse cx="977" cy="747.5" rx="12" ry="14.5"/><text x="977" y="747.5">425549</text></g>
<g id="c6-437385"><ellipse cx="912.3" cy="778.9" rx="12" ry="14.5"/><text x="912.3" y="778.9">437385</text></g>
<g id="c6-433380"><ellipse cx="951" cy="778.9" rx="12" ry="14.5"/><text x="951" y="778.9">433380</text></g>
<g id="c6-435752"><ellipse cx="977" cy="778.9" rx="12" ry="14.5"/><text x="977" y="778.9">435752</text></g>
</g>

<g id="cluster-7" class="k7">
<rect class="sr" x="1183.3" y="703.7" width="60" height="228" rx="10"/>
<rect class="dr" x="1128.7" y="707.5" width="83.3" height="29" rx="14.5"/>
<rect class="dr" x="1214.7" y="864" width="57.3" height="29" rx="14.5"/>
<rect class="dr" x="1214.7" y="895.3" width="57.3" height="29" rx="14.5"/>
<rect class="lb" x="1178.3" y="688" width="70" height="11.5"/><text class="lt" x="1213.3" y="693.7">동구 소재 사업장 관련</text>
<g id="c7-429728"><ellipse cx="1140.7" cy="722" rx="12" ry="14.5"/><text x="1140.7" y="722">429728</text></g>
<g id="c7-429729"><ellipse cx="1166.7" cy="722" rx="12" ry="14.5"/><text x="1166.7" y="722">429729</text></g>
<g id="c7-433380"><ellipse cx="1200" cy="722" rx="12" ry="14.5"/><text x="1200" y="722">433380</text></g>
<g id="c7-437349"><ellipse cx="1226.7" cy="722" rx="12" ry="14.5"/><text x="1226.7" y="722">437349</text></g>
<g id="c7-437350"><ellipse cx="1200" cy="753.3" rx="12" ry="14.5"/><text x="1200" y="753.3">437350</text></g>
<g id="c7-437488"><ellipse cx="1226.7" cy="753.3" rx="12" ry="14.5"/><text x="1226.7" y="753.3">437488</text></g>
<g id="c7-437565"><ellipse cx="1200" cy="784.6" rx="12" ry="14.5"/><text x="1200" y="784.6">437565</text></g>
<g id="c7-437568"><ellipse cx="1226.7" cy="784.6" rx="12" ry="14.5"/><text x="1226.7" y="784.6">437568</text></g>
<g id="c7-441277"><ellipse cx="1200" cy="815.9" rx="12" ry="14.5"/><text x="1200" y="815.9">441277</text></g>
<g id="c7-442962"><ellipse cx="1226.7" cy="815.9" rx="12" ry="14.5"/><text x="1226.7" y="815.9">442962</text></g>
<g id="c7-441545"><ellipse cx="1200" cy="847.2" rx="12" ry="14.5"/><text x="1200" y="847.2">441545</text></g>
<g id="c7-441547"><ellipse cx="1226.7" cy="847.2" rx="12" ry="14.5"/><text x="1226.7" y="847.2">441547</text></g>
<g id="c7-441518"><ellipse cx="1200" cy="878.5" rx="12" ry="14.5"/><text x="1200" y="878.5">441518</text></g>
<g id="c7-444058"><ellipse cx="1226.7" cy="878.5" rx="12" ry="14.5"/><text x="1226.7" y="878.5">444058</text></g>
<g id="c7-446503"><ellipse cx="1260" cy="878.5" rx="12" ry="14.5"/><text x="1260" y="878.5">446503</text></g>
<g id="c7-444686"><ellipse cx="1200" cy="909.8" rx="12" ry="14.5"/><text x="1200" y="909.8">444686</text></g>
<g id="c7-444871"><ellipse cx="1226.7" cy="909.8" rx="12" ry="14.5"/><text x="1226.7" y="909.8">444871</text></g>
<g id="c7-447518"><ellipse cx="1260" cy="909.8" rx="12" ry="14.5"/><text x="1260" y="909.8">447518</text></g>
</g>

<g id="cluster-8" class="k8">
<rect class="sr" x="486.7" y="801.7" width="60" height="200" rx="10"/>
<rect class="dr" x="454" y="806.5" width="60.3" height="29" rx="14.5"/>
<rect class="dr" x="517.3" y="838.5" width="58" height="29" rx="14.5"/>
<rect class="dr" x="517.3" y="869.5" width="58" height="29" rx="14.5"/>
<rect class="dr" x="454" y="904.5" width="60.3" height="29" rx="14.5"/>
<rect class="dr" x="454" y="936" width="60.3" height="29" rx="14.5"/>
<rect class="dr" x="323" y="830.5" width="75.7" height="29" rx="14.5"/>
<rect class="dr" x="403" y="797.2" width="24" height="64" rx="12"/>
<rect class="dr" x="428" y="797.2" width="24" height="64" rx="12"/>
<rect class="dr" x="379.7" y="864.8" width="56.6" height="29" rx="14.5"/>
<rect class="lb" x="476.7" y="785" width="70" height="12.3"/><text class="lt" x="511.7" y="791.2">남구 소재 복지회관 관련</text>
<g id="c8-425338"><ellipse cx="275" cy="826" rx="12" ry="14.5"/><text x="275" y="826">425338</text></g>
<g id="c8-421046"><ellipse cx="300" cy="826" rx="12" ry="14.5"/><text x="300" y="826">421046</text></g>
<g id="c8-440348"><ellipse cx="275" cy="868.3" rx="12" ry="14.5"/><text x="275" y="868.3">440348</text></g>
<g id="c8-440041"><ellipse cx="300" cy="868.3" rx="12" ry="14.5"/><text x="300" y="868.3">440041</text></g>
<g id="c8-415712"><ellipse cx="335" cy="845" rx="12" ry="14.5"/><text x="335" y="845">415712</text></g>
<g id="c8-415711"><ellipse cx="360" cy="845" rx="12" ry="14.5"/><text x="360" y="845">415711</text></g>
<g id="c8-413948"><ellipse cx="386.7" cy="845" rx="12" ry="14.5"/><text x="386.7" y="845">413948</text></g>
<g id="c8-416008"><ellipse cx="415" cy="811.7" rx="12" ry="14.5"/><text x="415" y="811.7">416008</text></g>
<g id="c8-415286"><ellipse cx="415" cy="846.7" rx="12" ry="14.5"/><text x="415" y="846.7">415286</text></g>
<g id="c8-406287"><ellipse cx="440" cy="811.7" rx="12" ry="14.5"/><text x="440" y="811.7">406287</text></g>
<g id="c8-406272"><ellipse cx="440" cy="846.7" rx="12" ry="14.5"/><text x="440" y="846.7">406272</text></g>
<g id="c8-425331"><ellipse cx="391.7" cy="879.3" rx="12" ry="14.5"/><text x="391.7" y="879.3">425331</text></g>
<g id="c8-406271"><ellipse cx="424.3" cy="879.3" rx="12" ry="14.5"/><text x="424.3" y="879.3">406271</text></g>
<g id="c8-403667"><ellipse cx="452.7" cy="879.3" rx="12" ry="14.5"/><text x="452.7" y="879.3">403667</text></g>
<g id="c8-399741"><ellipse cx="466" cy="821" rx="12" ry="14.5"/><text x="466" y="821">399741</text></g>
<g id="c8-399743"><ellipse cx="502.3" cy="821" rx="12" ry="14.5"/><text x="502.3" y="821">399743</text></g>
<g id="c8-399756"><ellipse cx="529.3" cy="821" rx="12" ry="14.5"/><text x="529.3" y="821">399756</text></g>
<g id="c8-403100"><ellipse cx="502.3" cy="853" rx="12" ry="14.5"/><text x="502.3" y="853">403100</text></g>
<g id="c8-403195"><ellipse cx="529.3" cy="853" rx="12" ry="14.5"/><text x="529.3" y="853">403195</text></g>
<g id="c8-403688"><ellipse cx="563.3" cy="853" rx="12" ry="14.5"/><text x="563.3" y="853">403688</text></g>
<g id="c8-408992"><ellipse cx="502.3" cy="884" rx="12" ry="14.5"/><text x="502.3" y="884">408992</text></g>
<g id="c8-404362"><ellipse cx="529.3" cy="884" rx="12" ry="14.5"/><text x="529.3" y="884">404362</text></g>
<g id="c8-405401"><ellipse cx="563.3" cy="884" rx="12" ry="14.5"/><text x="563.3" y="884">405401</text></g>
<g id="c8-421367"><ellipse cx="466" cy="919" rx="12" ry="14.5"/><text x="466" y="919">421367</text></g>
<g id="c8-401556"><ellipse cx="502.3" cy="919" rx="12" ry="14.5"/><text x="502.3" y="919">401556</text></g>
<g id="c8-409800"><ellipse cx="529.3" cy="919" rx="12" ry="14.5"/><text x="529.3" y="919">409800</text></g>
<g id="c8-409815"><ellipse cx="466" cy="950.5" rx="12" ry="14.5"/><text x="466" y="950.5">409815</text></g>
<g id="c8-404360"><ellipse cx="502.3" cy="950.5" rx="12" ry="14.5"/><text x="502.3" y="950.5">404360</text></g>
<g id="c8-415797"><ellipse cx="529.3" cy="950.5" rx="12" ry="14.5"/><text x="529.3" y="950.5">415797</text></g>
<g id="c8-413455"><ellipse cx="502.3" cy="983.5" rx="12" ry="14.5"/><text x="502.3" y="983.5">413455</text></g>
</g>

<g id="cluster-9" class="k9">
<rect class="sr" x="780" y="893.7" width="146.7" height="480" rx="12"/>
<rect class="dr" x="745.3" y="1054.7" width="63" height="29" rx="14.5"/>
<rect class="dr" x="745.3" y="1085.8" width="63" height="29" rx="14.5"/>
<rect class="lb" x="810" y="878.7" width="76.7" height="11.6"/><text class="lt" x="848.3" y="884.5">북구 소재 요양기관3 관련</text>
<g id="c9-425811"><ellipse cx="796.3" cy="913.7" rx="12" ry="14.5"/><text x="796.3" y="913.7">425811</text></g>
<g id="c9-425813"><ellipse cx="824.3" cy="913.7" rx="12" ry="14.5"/><text x="824.3" y="913.7">425813</text></g>
<g id="c9-425873"><ellipse cx="852.3" cy="913.7" rx="12" ry="14.5"/><text x="852.3" y="913.7">425873</text></g>
<g id="c9-429212"><ellipse cx="880.3" cy="913.7" rx="12" ry="14.5"/><text x="880.3" y="913.7">429212</text></g>
<g id="c9-429213"><ellipse cx="908.3" cy="913.7" rx="12" ry="14.5"/><text x="908.3" y="913.7">429213</text></g>
<g id="c9-429214"><ellipse cx="796.3" cy="944.8" rx="12" ry="14.5"/><text x="796.3" y="944.8">429214</text></g>
<g id="c9-429215"><ellipse cx="824.3" cy="944.8" rx="12" ry="14.5"/><text x="824.3" y="944.8">429215</text></g>
<g id="c9-429216"><ellipse cx="852.3" cy="944.8" rx="12" ry="14.5"/><text x="852.3" y="944.8">429216</text></g>
<g id="c9-429217"><ellipse cx="880.3" cy="944.8" rx="12" ry="14.5"/><text x="880.3" y="944.8">429217</text></g>
<g id="c9-429219"><ellipse cx="908.3" cy="944.8" rx="12" ry="14.5"/><text x="908.3" y="944.8">429219</text></g>
<g id="c9-429220"><ellipse cx="796.3" cy="975.9" rx="12" ry="14.5"/><text x="796.3" y="975.9">429220</text></g>
<g id="c9-429221"><ellipse cx="824.3" cy="975.9" rx="12" ry="14.5"/><text x="824.3" y="975.9">429221</text></g>
<g id="c9-429222"><ellipse cx="852.3" cy="975.9" rx="12" ry="14.5"/><text x="852.3" y="975.9">429222</text></g>
<g id="c9-429223"><ellipse cx="880.3" cy="975.9" rx="12" ry="14.5"/><text x="880.3" y="975.9">429223</text></g>
<g id="c9-429224"><ellipse cx="908.3" cy="975.9" rx="12" ry="14.5"/><text x="908.3" y="975.9">429224</text></g>
<g id="c9-429225"><ellipse cx="796.3" cy="1007" rx="12" ry="14.5"/><text x="796.3" y="1007">429225</text></g>
<g id="c9-429226"><ellipse cx="824.3" cy="1007" rx="12" ry="14.5"/><text x="824.3" y="1007">429226</text></g>
<g id="c9-429229"><ellipse cx="852.3" cy="1007" rx="12" ry="14.5"/><text x="852.3" y="1007">429229</text></g>
<g id="c9-429230"><ellipse cx="880.3" cy="1007" rx="12" ry="14.5"/><text x="880.3" y="1007">429230</text></g>
<g id="c9-429231"><ellipse cx="908.3" cy="1007" rx="12" ry="14.5"/><text x="908.3" y="1007">429231</text></g>
<g id="c9-429232"><ellipse cx="796.3" cy="1038.1" rx="12" ry="14.5"/><text x="796.3" y="1038.1">429232</text></g>
<g id="c9-429233"><ellipse cx="824.3" cy="1038.1" rx="12" ry="14.5"/><text x="824.3" y="1038.1">429233</text></g>
<g id="c9-429234"><ellipse cx="852.3" cy="1038.1" rx="12" ry="14.5"/><text x="852.3" y="1038.1">429234</text></g>
<g id="c9-429235"><ellipse cx="880.3" cy="1038.1" rx="12" ry="14.5"/><text x="880.3" y="1038.1">429235</text></g>
<g id="c9-429236"><ellipse cx="908.3" cy="1038.1" rx="12" ry="14.5"/><text x="908.3" y="1038.1">429236</text></g>
<g id="c9-436795"><ellipse cx="757.3" cy="1069.2" rx="12" ry="14.5"/><text x="757.3" y="1069.2">436795</text></g>
<g id="c9-429550"><ellipse cx="796.3" cy="1069.2" rx="12" ry="14.5"/><text x="796.3" y="1069.2">429550</text></g>
<g id="c9-429238"><ellipse cx="824.3" cy="1069.2" rx="12" ry="14.5"/><text x="824.3" y="1069.2">429238</text></g>
<g id="c9-429239"><ellipse cx="852.3" cy="1069.2" rx="12" ry="14.5"/><text x="852.3" y="1069.2">429239</text></g>
<g id="c9-429515"><ellipse cx="880.3" cy="1069.2" rx="12" ry="14.5"/><text x="880.3" y="1069.2">429515</text></g>
<g id="c9-429884"><ellipse cx="908.3" cy="1069.2" rx="12" ry="14.5"/><text x="908.3" y="1069.2">429884</text></g>
<g id="c9-432760"><ellipse cx="757.3" cy="1100.3" rx="12" ry="14.5"/><text x="757.3" y="1100.3">432760</text></g>
<g id="c9-429542"><ellipse cx="796.3" cy="1100.3" rx="12" ry="14.5"/><text x="796.3" y="1100.3">429542</text></g>
<g id="c9-429545"><ellipse cx="824.3" cy="1100.3" rx="12" ry="14.5"/><text x="824.3" y="1100.3">429545</text></g>
<g id="c9-429237"><ellipse cx="852.3" cy="1100.3" rx="12" ry="14.5"/><text x="852.3" y="1100.3">429237</text></g>
<g id="c9-429509"><ellipse cx="880.3" cy="1100.3" rx="12" ry="14.5"/><text x="880.3" y="1100.3">429509</text></g>
<g id="c9-429510"><ellipse cx="908.3" cy="1100.3" rx="12" ry="14.5"/><text x="908.3" y="1100.3">429510</text></g>
<g id="c9-429511"><ellipse cx="796.3" cy="1131.4" rx="12" ry="14.5"/><text x="796.3" y="1131.4">429511</text></g>
<g id="c9-429514"><ellipse cx="824.3" cy="1131.4" rx="12" ry="14.5"/><text x="824.3" y="1131.4">429514</text></g>
<g id="c9-429516"><ellipse cx="852.3" cy="1131.4" rx="12" ry="14.5"/><text x="852.3" y="1131.4">429516</text></g>
<g id="c9-429520"><ellipse cx="880.3" cy="1131.4" rx="12" ry="14.5"/><text x="880.3" y="1131.4">429520</text></g>
<g id="c9-430015"><ellipse cx="908.3" cy="1131.4" rx="12" ry="14.5"/><text x="908.3" y="1131.4">430015</text></g>
<g id="c9-431028"><ellipse cx="796.3" cy="1162.5" rx="12" ry="14.5"/><text x="796.3" y="1162.5">431028</text></g>
<g id="c9-432502"><ellipse cx="824.3" cy="1162.5" rx="12" ry="14.5"/><text x="824.3" y="1162.5">432502</text></g>
<g id="c9-432503"><ellipse cx="852.3" cy="1162.5" rx="12" ry="14.5"/><text x="852.3" y="1162.5">432503</text></g>
<g id="c9-432504"><ellipse cx="880.3" cy="1162.5" rx="12" ry="14.5"/><text x="880.3" y="1162.5">432504</text></g>
<g id="c9-432505"><ellipse cx="908.3" cy="1162.5" rx="12" ry="14.5"/><text x="908.3" y="1162.5">432505</text></g>
<g id="c9-432506"><ellipse cx="796.3" cy="1193.6" rx="12" ry="14.5"/><text x="796.3" y="1193.6">432506</text></g>
<g id="c9-432507"><ellipse cx="824.3" cy="1193.6" rx="12" ry="14.5"/><text x="824.3" y="1193.6">432507</text></g>
<g id="c9-432508"><ellipse cx="852.3" cy="1193.6" rx="12" ry="14.5"/><text x="852.3" y="1193.6">432508</text></g>
<g id="c9-432509"><ellipse cx="880.3" cy="1193.6" rx="12" ry="14.5"/><text x="880.3" y="1193.6">432509</text></g>
<g id="c9-432510"><ellipse cx="908.3" cy="1193.6" rx="12" ry="14.5"/><text x="908.3" y="1193.6">432510</text></g>
<g id="c9-432858"><ellipse cx="796.3" cy="1224.7" rx="12" ry="14.5"/><text x="796.3" y="1224.7">432858</text></g>
<g id="c9-433741"><ellipse cx="824.3" cy="1224.7" rx="12" ry="14.5"/><text x="824.3" y="1224.7">433741</text></g>
<g id="c9-433380"><ellipse cx="852.3" cy="1224.7" rx="12" ry="14.5"/><text x="852.3" y="1224.7">433380</text></g>
<g id="c9-436507"><ellipse cx="880.3" cy="1224.7" rx="12" ry="14.5"/><text x="880.3" y="1224.7">436507</text></g>
<g id="c9-436508"><ellipse cx="908.3" cy="1224.7" rx="12" ry="14.5"/><text x="908.3" y="1224.7">436508</text></g>
<g id="c9-436509"><ellipse cx="796.3" cy="1255.8" rx="12" ry="14.5"/><text x="796.3" y="1255.8">436509</text></g>
<g id="c9-436510"><ellipse cx="824.3" cy="1255.8" rx="12" ry="14.5"/><text x="824.3" y="1255.8">436510</text></g>
<g id="c9-436511"><ellipse cx="852.3" cy="1255.8" rx="12" ry="14.5"/><text x="852.3" y="1255.8">436511</text></g>
<g id="c9-436447"><ellipse cx="880.3" cy="1255.8" rx="12" ry="14.5"/><text x="880.3" y="1255.8">436447</text></g>
<g id="c9-437050"><ellipse cx="908.3" cy="1255.8" rx="12" ry="14.5"/><text x="908.3" y="1255.8">437050</text></g>
<g id="c9-436885"><ellipse cx="796.3" cy="1286.9" rx="12" ry="14.5"/><text x="796.3" y="1286.9">436885</text></g>
<g id="c9-439174"><ellipse cx="824.3" cy="1286.9" rx="12" ry="14.5"/><text x="824.3" y="1286.9">439174</text></g>
<g id="c9-439175"><ellipse cx="852.3" cy="1286.9" rx="12" ry="14.5"/><text x="852.3" y="1286.9">439175</text></g>
<g id="c9-437480"><ellipse cx="880.3" cy="1286.9" rx="12" ry="14.5"/><text x="880.3" y="1286.9">437480</text></g>
<g id="c9-441008"><ellipse cx="908.3" cy="1286.9" rx="12" ry="14.5"/><text x="908.3" y="1286.9">441008</text></g>
<g id="c9-441160"><ellipse cx="796.3" cy="1318" rx="12" ry="14.5"/><text x="796.3" y="1318">441160</text></g>
<g id="c9-443186"><ellipse cx="824.3" cy="1318" rx="12" ry="14.5"/><text x="824.3" y="1318">443186</text></g>
<g id="c9-444502"><ellipse cx="852.3" cy="1318" rx="12" ry="14.5"/><text x="852.3" y="1318">444502</text></g>
<g id="c9-444503"><ellipse cx="880.3" cy="1318" rx="12" ry="14.5"/><text x="880.3" y="1318">444503</text></g>
<g id="c9-444505"><ellipse cx="908.3" cy="1318" rx="12" ry="14.5"/><text x="908.3" y="1318">444505</text></g>
<g id="c9-444506"><ellipse cx="796.3" cy="1349.1" rx="12" ry="14.5"/><text x="796.3" y="1349.1">444506</text></g>
<g id="c9-447114"><ellipse cx="824.3" cy="1349.1" rx="12" ry="14.5"/><text x="824.3" y="1349.1">447114</text></g>
<g id="c9-452131"><ellipse cx="852.3" cy="1349.1" rx="12" ry="14.5"/><text x="852.3" y="1349.1">452131</text></g>
<g id="c9-452132"><ellipse cx="880.3" cy="1349.1" rx="12" ry="14.5"/><text x="880.3" y="1349.1">452132</text></g>
<g id="c9-452133"><ellipse cx="908.3" cy="1349.1" rx="12" ry="14.5"/><text x="908.3" y="1349.1">452133</text></g>
</g>

<g id="cluster-10" class="k10">
<rect class="sr" x="94" y="1023.3" width="58.3" height="225.7" rx="10"/>
<rect class="dr" x="62.7" y="1027.5" width="59" height="29" rx="14.5"/>
<rect class="dr" x="124.3" y="1058.5" width="59.2" height="29" rx="14.5"/>
<rect class="dr" x="62.7" y="1089.5" width="146.3" height="29" rx="14.5"/>
<rect class="dr" x="13.7" y="1182.5" width="169.8" height="29" rx="14.5"/>
<rect class="lb" x="87.6" y="1006.7" width="74.5" height="11.6"/><text class="lt" x="124.9" y="1012.5">서구 소재 요양기관 관련</text>
<g id="c10-407108"><ellipse cx="74.7" cy="1042" rx="12" ry="14.5"/><text x="74.7" y="1042">407108</text></g>
<g id="c10-399978"><ellipse cx="109.7" cy="1042" rx="12" ry="14.5"/><text x="109.7" y="1042">399978</text></g>
<g id="c10-402811"><ellipse cx="136.3" cy="1042" rx="12" ry="14.5"/><text x="136.3" y="1042">402811</text></g>
<g id="c10-403107"><ellipse cx="67.7" cy="1075" rx="12" ry="14.5"/><text x="67.7" y="1075">403107</text></g>
<g id="c10-402813"><ellipse cx="109.7" cy="1073" rx="12" ry="14.5"/><text x="109.7" y="1073">402813</text></g>
<g id="c10-402812"><ellipse cx="136.3" cy="1073" rx="12" ry="14.5"/><text x="136.3" y="1073">402812</text></g>
<g id="c10-405887"><ellipse cx="171.5" cy="1073" rx="12" ry="14.5"/><text x="171.5" y="1073">405887</text></g>
<g id="c10-403870"><ellipse cx="74.7" cy="1104" rx="12" ry="14.5"/><text x="74.7" y="1104">403870</text></g>
<g id="c10-402815"><ellipse cx="109.7" cy="1104" rx="12" ry="14.5"/><text x="109.7" y="1104">402815</text></g>
<g id="c10-402810"><ellipse cx="136.3" cy="1104" rx="12" ry="14.5"/><text x="136.3" y="1104">402810</text></g>
<g id="c10-403186"><ellipse cx="171.5" cy="1104" rx="12" ry="14.5"/><text x="171.5" y="1104">403186</text></g>
<g id="c10-403185"><ellipse cx="197" cy="1104" rx="12" ry="14.5"/><text x="197" y="1104">403185</text></g>
<g id="c10-402814"><ellipse cx="109.7" cy="1135" rx="12" ry="14.5"/><text x="109.7" y="1135">402814</text></g>
<g id="c10-403104"><ellipse cx="136.3" cy="1135" rx="12" ry="14.5"/><text x="136.3" y="1135">403104</text></g>
<g id="c10-403523"><ellipse cx="109.7" cy="1166" rx="12" ry="14.5"/><text x="109.7" y="1166">403523</text></g>
<g id="c10-414980"><ellipse cx="136.3" cy="1166" rx="12" ry="14.5"/><text x="136.3" y="1166">414980</text></g>
<g id="c10-418417"><ellipse cx="25.7" cy="1197" rx="12" ry="14.5"/><text x="25.7" y="1197">418417</text></g>
<g id="c10-418418"><ellipse cx="50.2" cy="1197" rx="12" ry="14.5"/><text x="50.2" y="1197">418418</text></g>
<g id="c10-418419"><ellipse cx="75.7" cy="1197" rx="12" ry="14.5"/><text x="75.7" y="1197">418419</text></g>
<g id="c10-415670"><ellipse cx="109.7" cy="1197" rx="12" ry="14.5"/><text x="109.7" y="1197">415670</text></g>
<g id="c10-421300"><ellipse cx="136.3" cy="1197" rx="12" ry="14.5"/><text x="136.3" y="1197">421300</text></g>
<g id="c10-441163"><ellipse cx="171.5" cy="1197" rx="12" ry="14.5"/><text x="171.5" y="1197">441163</text></g>
<g id="c10-423521"><ellipse cx="109.7" cy="1228" rx="12" ry="14.5"/><text x="109.7" y="1228">423521</text></g>
</g>

<g id="cluster-11" class="k11">
<rect class="sr" x="426" y="1114.3" width="59.5" height="224.7" rx="10"/>
<rect class="dr" x="394.9" y="1211.8" width="120.1" height="29" rx="14.5"/>
<rect class="dr" x="491" y="1243.3" width="59" height="29" rx="14.5"/>
<rect class="dr" x="394.9" y="1274.5" width="60.7" height="29" rx="14.5"/>
<rect class="lb" x="419" y="1097.7" width="74" height="12.3" style="stroke:#2a5a1a"/><text class="lt" x="456" y="1103.9">동구 소재 종교시설 관련</text>
<g id="c11-403256"><ellipse cx="443.6" cy="1133.3" rx="12" ry="14.5"/><text x="443.6" y="1133.3">403256</text></g>
<g id="c11-403259"><ellipse cx="468.7" cy="1133.3" rx="12" ry="14.5"/><text x="468.7" y="1133.3">403259</text></g>
<g id="c11-403302"><ellipse cx="443.6" cy="1164.3" rx="12" ry="14.5"/><text x="443.6" y="1164.3">403302</text></g>
<g id="c11-407627"><ellipse cx="468.7" cy="1164.3" rx="12" ry="14.5"/><text x="468.7" y="1164.3">407627</text></g>
<g id="c11-410021"><ellipse cx="443.6" cy="1195.3" rx="12" ry="14.5"/><text x="443.6" y="1195.3">410021</text></g>
<g id="c11-409492"><ellipse cx="468.7" cy="1195.3" rx="12" ry="14.5"/><text x="468.7" y="1195.3">409492</text></g>
<g id="c11-444402"><ellipse cx="406.9" cy="1226.3" rx="12" ry="14.5"/><text x="406.9" y="1226.3">444402</text></g>
<g id="c11-403429"><ellipse cx="443.6" cy="1226.3" rx="12" ry="14.5"/><text x="443.6" y="1226.3">403429</text></g>
<g id="c11-413549"><ellipse cx="468.7" cy="1226.3" rx="12" ry="14.5"/><text x="468.7" y="1226.3">413549</text></g>
<g id="c11-415716"><ellipse cx="503" cy="1226.3" rx="12" ry="14.5"/><text x="503" y="1226.3">415716</text></g>
<g id="c11-415717"><ellipse cx="538" cy="1226.3" rx="12" ry="14.5"/><text x="538" y="1226.3">415717</text></g>
<g id="c11-413012"><ellipse cx="443.6" cy="1257.8" rx="12" ry="14.5"/><text x="443.6" y="1257.8">413012</text></g>
<g id="c11-412673"><ellipse cx="468.7" cy="1257.8" rx="12" ry="14.5"/><text x="468.7" y="1257.8">412673</text></g>
<g id="c11-421112"><ellipse cx="503" cy="1257.8" rx="12" ry="14.5"/><text x="503" y="1257.8">421112</text></g>
<g id="c11-429950"><ellipse cx="538" cy="1257.8" rx="12" ry="14.5"/><text x="538" y="1257.8">429950</text></g>
<g id="c11-433573"><ellipse cx="406.9" cy="1289" rx="12" ry="14.5"/><text x="406.9" y="1289">433573</text></g>
<g id="c11-415958"><ellipse cx="443.6" cy="1289" rx="12" ry="14.5"/><text x="443.6" y="1289">415958</text></g>
<g id="c11-421116"><ellipse cx="468.7" cy="1289" rx="12" ry="14.5"/><text x="468.7" y="1289">421116</text></g>
<g id="c11-425300"><ellipse cx="443.6" cy="1320.5" rx="12" ry="14.5"/><text x="443.6" y="1320.5">425300</text></g>
</g>

<g id="cluster-12" class="k12">
<rect class="sr" x="1148.3" y="1137.3" width="58.4" height="74" rx="10"/>
<rect class="sr" x="1225" y="1166" width="58.3" height="114" rx="10"/>
<rect class="lb" x="1138.3" y="1122" width="78.4" height="12.6"/><text class="lt" x="1177.5" y="1128.3">북구 소재 의료기관3 관련</text>
<g id="c12-432198"><ellipse cx="1163.3" cy="1156.5" rx="12" ry="14.5"/><text x="1163.3" y="1156.5">432198</text></g>
<g id="c12-437955"><ellipse cx="1190" cy="1156.5" rx="12" ry="14.5"/><text x="1190" y="1156.5">437955</text></g>
<g id="c12-438088"><ellipse cx="1163.3" cy="1188.2" rx="12" ry="14.5"/><text x="1163.3" y="1188.2">438088</text></g>
<g id="c12-438094"><ellipse cx="1190" cy="1188.2" rx="12" ry="14.5"/><text x="1190" y="1188.2">438094</text></g>
<g id="c12-441137"><ellipse cx="1240.5" cy="1188.2" rx="12" ry="14.5"/><text x="1240.5" y="1188.2">441137</text></g>
<g id="c12-441138"><ellipse cx="1267" cy="1188.2" rx="12" ry="14.5"/><text x="1267" y="1188.2">441138</text></g>
<g id="c12-441139"><ellipse cx="1240.5" cy="1218.8" rx="12" ry="14.5"/><text x="1240.5" y="1218.8">441139</text></g>
<g id="c12-441135"><ellipse cx="1267" cy="1218.8" rx="12" ry="14.5"/><text x="1267" y="1218.8">441135</text></g>
<g id="c12-444509"><ellipse cx="1240.5" cy="1249.5" rx="12" ry="14.5"/><text x="1240.5" y="1249.5">444509</text></g>
<g id="c12-444510"><ellipse cx="1267" cy="1249.5" rx="12" ry="14.5"/><text x="1267" y="1249.5">444510</text></g>
</g>

<g id="cluster-13" class="k13">
<rect class="sr" x="103" y="1468.3" width="60" height="231.7" rx="10"/>
<rect class="dr" x="46.7" y="1505" width="85.3" height="29" rx="14.5"/>
<rect class="dr" x="46.7" y="1536.2" width="49.6" height="29" rx="14.5"/>
<rect class="dr" x="134.5" y="1536.2" width="84.2" height="29" rx="14.5"/>
<rect class="dr" x="72.3" y="1567.5" width="59.7" height="29" rx="14.5"/>
<rect class="lb" x="95.3" y="1455" width="75" height="11.3"/><text class="lt" x="132.8" y="1460.7">수성구 소재 목욕시설 관련</text>
<g id="c13-403040"><ellipse cx="58.7" cy="1488.3" rx="12" ry="14.5"/><text x="58.7" y="1488.3">403040</text></g>
<g id="c13-403670"><ellipse cx="84.3" cy="1488.3" rx="12" ry="14.5"/><text x="84.3" y="1488.3">403670</text></g>
<g id="c13-399843"><ellipse cx="120" cy="1488.3" rx="12" ry="14.5"/><text x="120" y="1488.3">399843</text></g>
<g id="c13-400544"><ellipse cx="146.5" cy="1488.3" rx="12" ry="14.5"/><text x="146.5" y="1488.3">400544</text></g>
<g id="c13-418167"><ellipse cx="58.7" cy="1519.5" rx="12" ry="14.5"/><text x="58.7" y="1519.5">418167</text></g>
<g id="c13-416200"><ellipse cx="84.3" cy="1519.5" rx="12" ry="14.5"/><text x="84.3" y="1519.5">416200</text></g>
<g id="c13-400886"><ellipse cx="120" cy="1519.5" rx="12" ry="14.5"/><text x="120" y="1519.5">400886</text></g>
<g id="c13-409811"><ellipse cx="146.5" cy="1519.5" rx="12" ry="14.5"/><text x="146.5" y="1519.5">409811</text></g>
<g id="c13-429055"><ellipse cx="58.7" cy="1550.7" rx="12" ry="14.5"/><text x="58.7" y="1550.7">429055</text></g>
<g id="c13-429065"><ellipse cx="84.3" cy="1550.7" rx="12" ry="14.5"/><text x="84.3" y="1550.7">429065</text></g>
<g id="c13-400866"><ellipse cx="120" cy="1550.7" rx="12" ry="14.5"/><text x="120" y="1550.7">400866</text></g>
<g id="c13-415679"><ellipse cx="146.5" cy="1550.7" rx="12" ry="14.5"/><text x="146.5" y="1550.7">415679</text></g>
<g id="c13-413159"><ellipse cx="182" cy="1550.7" rx="12" ry="14.5"/><text x="182" y="1550.7">413159</text></g>
<g id="c13-415680"><ellipse cx="206.7" cy="1550.7" rx="12" ry="14.5"/><text x="206.7" y="1550.7">415680</text></g>
<g id="c13-442484"><ellipse cx="84.3" cy="1582" rx="12" ry="14.5"/><text x="84.3" y="1582">442484</text></g>
<g id="c13-440155"><ellipse cx="120" cy="1582" rx="12" ry="14.5"/><text x="120" y="1582">440155</text></g>
<g id="c13-437428"><ellipse cx="146.5" cy="1582" rx="12" ry="14.5"/><text x="146.5" y="1582">437428</text></g>
<g id="c13-441673"><ellipse cx="120" cy="1613.5" rx="12" ry="14.5"/><text x="120" y="1613.5">441673</text></g>
<g id="c13-447549"><ellipse cx="146.5" cy="1613.5" rx="12" ry="14.5"/><text x="146.5" y="1613.5">447549</text></g>
<g id="c13-452339"><ellipse cx="120" cy="1645" rx="12" ry="14.5"/><text x="120" y="1645">452339</text></g>
<g id="c13-447698"><ellipse cx="146.5" cy="1645" rx="12" ry="14.5"/><text x="146.5" y="1645">447698</text></g>
<g id="c13-448468"><ellipse cx="120" cy="1676.5" rx="12" ry="14.5"/><text x="120" y="1676.5">448468</text></g>
<g id="c13-447702"><ellipse cx="146.5" cy="1676.5" rx="12" ry="14.5"/><text x="146.5" y="1676.5">447702</text></g>
</g>

<g id="cluster-14" class="k14">
<rect class="sr" x="364" y="1505" width="59" height="195" rx="10"/>
<rect class="dr" x="331.7" y="1510.5" width="121.6" height="29" rx="14.5"/>
<rect class="dr" x="462.5" y="1542" width="56.5" height="29" rx="14.5"/>
<rect class="dr" x="331.7" y="1573.5" width="60.6" height="29" rx="14.5"/>
<rect class="dr" x="395.7" y="1573.5" width="57.6" height="29" rx="14.5"/>
<rect class="dr" x="429.3" y="1605" width="58.7" height="29" rx="14.5"/>
<rect class="dr" x="526" y="1605" width="58" height="29" rx="14.5"/>
<rect class="lb" x="356" y="1488.3" width="72" height="12.4"/><text class="lt" x="392" y="1494.5">중구 소재 목욕시설2 관련</text>
<g id="c14-403470"><ellipse cx="343.7" cy="1525" rx="12" ry="14.5"/><text x="343.7" y="1525">403470</text></g>
<g id="c14-405651"><ellipse cx="380.3" cy="1525" rx="12" ry="14.5"/><text x="380.3" y="1525">405651</text></g>
<g id="c14-408450"><ellipse cx="407.7" cy="1525" rx="12" ry="14.5"/><text x="407.7" y="1525">408450</text></g>
<g id="c14-409733"><ellipse cx="441.3" cy="1525" rx="12" ry="14.5"/><text x="441.3" y="1525">409733</text></g>
<g id="c14-407203"><ellipse cx="469.5" cy="1527" rx="12" ry="14.5"/><text x="469.5" y="1527">407203</text></g>
<g id="c14-412447"><ellipse cx="343.7" cy="1556.5" rx="12" ry="14.5"/><text x="343.7" y="1556.5">412447</text></g>
<g id="c14-415783"><ellipse cx="380.3" cy="1556.5" rx="12" ry="14.5"/><text x="380.3" y="1556.5">415783</text></g>
<g id="c14-418081"><ellipse cx="407.7" cy="1556.5" rx="12" ry="14.5"/><text x="407.7" y="1556.5">418081</text></g>
<g id="c14-413648"><ellipse cx="441.3" cy="1556.5" rx="12" ry="14.5"/><text x="441.3" y="1556.5">413648</text></g>
<g id="c14-420884"><ellipse cx="474.5" cy="1556.5" rx="12" ry="14.5"/><text x="474.5" y="1556.5">420884</text></g>
<g id="c14-421806"><ellipse cx="507" cy="1556.5" rx="12" ry="14.5"/><text x="507" y="1556.5">421806</text></g>
<g id="c14-415883"><ellipse cx="343.7" cy="1588" rx="12" ry="14.5"/><text x="343.7" y="1588">415883</text></g>
<g id="c14-412998"><ellipse cx="380.3" cy="1588" rx="12" ry="14.5"/><text x="380.3" y="1588">412998</text></g>
<g id="c14-418466"><ellipse cx="407.7" cy="1588" rx="12" ry="14.5"/><text x="407.7" y="1588">418466</text></g>
<g id="c14-421507"><ellipse cx="441.3" cy="1588" rx="12" ry="14.5"/><text x="441.3" y="1588">421507</text></g>
<g id="c14-444359"><ellipse cx="474.5" cy="1588" rx="12" ry="14.5"/><text x="474.5" y="1588">444359</text></g>
<g id="c14-445315"><ellipse cx="507" cy="1588" rx="12" ry="14.5"/><text x="507" y="1588">445315</text></g>
<g id="c14-418526"><ellipse cx="380.3" cy="1619.5" rx="12" ry="14.5"/><text x="380.3" y="1619.5">418526</text></g>
<g id="c14-414992"><ellipse cx="407.7" cy="1619.5" rx="12" ry="14.5"/><text x="407.7" y="1619.5">414992</text></g>
<g id="c14-441704"><ellipse cx="441.3" cy="1619.5" rx="12" ry="14.5"/><text x="441.3" y="1619.5">441704</text></g>
<g id="c14-441442"><ellipse cx="476" cy="1619.5" rx="12" ry="14.5"/><text x="476" y="1619.5">441442</text></g>
<g id="c14-444450"><ellipse cx="508.5" cy="1619.5" rx="12" ry="14.5"/><text x="508.5" y="1619.5">444450</text></g>
<g id="c14-447361"><ellipse cx="538" cy="1619.5" rx="12" ry="14.5"/><text x="538" y="1619.5">447361</text></g>
<g id="c14-444664"><ellipse cx="572" cy="1619.5" rx="12" ry="14.5"/><text x="572" y="1619.5">444664</text></g>
<g id="c14-421777"><ellipse cx="380.3" cy="1651" rx="12" ry="14.5"/><text x="380.3" y="1651">421777</text></g>
<g id="c14-421477"><ellipse cx="407.7" cy="1651" rx="12" ry="14.5"/><text x="407.7" y="1651">421477</text></g>
<g id="c14-444318"><ellipse cx="472" cy="1651" rx="12" ry="14.5"/><text x="472" y="1651">444318</text></g>
<g id="c14-444621"><ellipse cx="499.5" cy="1651" rx="12" ry="14.5"/><text x="499.5" y="1651">444621</text></g>
<g id="c14-444622"><ellipse cx="526.5" cy="1651" rx="12" ry="14.5"/><text x="526.5" y="1651">444622</text></g>
<g id="c14-447648"><ellipse cx="559.5" cy="1651" rx="12" ry="14.5"/><text x="559.5" y="1651">447648</text></g>
<g id="c14-447504"><ellipse cx="584.5" cy="1651" rx="12" ry="14.5"/><text x="584.5" y="1651">447504</text></g>
<g id="c14-450328"><ellipse cx="343.7" cy="1682.5" rx="12" ry="14.5"/><text x="343.7" y="1682.5">450328</text></g>
<g id="c14-425428"><ellipse cx="380.3" cy="1682.5" rx="12" ry="14.5"/><text x="380.3" y="1682.5">425428</text></g>
</g>

<g id="cluster-15" class="k15">
<rect class="dr" x="689" y="1515" width="108.2" height="79" rx="20"/>
<rect class="dr" x="691.7" y="1602.2" width="65.1" height="29" rx="14.5"/>
<rect class="lb" x="704.2" y="1503.3" width="68" height="11.7"/><text class="lt" x="738.2" y="1509.2">달서구 일가족 관련</text>
<g id="c15-429089"><ellipse cx="704.2" cy="1556" rx="12" ry="14.5"/><text x="704.2" y="1556">429089</text></g>
<g id="c15-433059"><ellipse cx="747.1" cy="1540" rx="12" ry="14.5"/><text x="747.1" y="1540">433059</text></g>
<g id="c15-452875"><ellipse cx="775.1" cy="1540" rx="12" ry="14.5"/><text x="775.1" y="1540">452875</text></g>
<g id="c15-432914"><ellipse cx="747.1" cy="1572.7" rx="12" ry="14.5"/><text x="747.1" y="1572.7">432914</text></g>
<g id="c15-433303"><ellipse cx="704.2" cy="1616.7" rx="12" ry="14.5"/><text x="704.2" y="1616.7">433303</text></g>
<g id="c15-433304"><ellipse cx="744.3" cy="1616.7" rx="12" ry="14.5"/><text x="744.3" y="1616.7">433304</text></g>
</g>

<g id="cluster-15b" class="k15">
<rect class="sr" x="806" y="1547.3" width="60" height="107.7" rx="10"/>
<rect class="dr" x="837.3" y="1554.8" width="86.1" height="29" rx="14.5"/>
<rect class="dr" x="837.3" y="1587.2" width="112.9" height="29" rx="14.5"/>
<rect class="dr" x="837.3" y="1618.8" width="112.9" height="29" rx="14.5"/>
<rect class="lb" x="799.2" y="1534.3" width="74" height="12.4"/><text class="lt" x="836.2" y="1540.5">달서구 소재 유치원 관련</text>
<g id="c15-437353"><ellipse cx="822.4" cy="1569.3" rx="12" ry="14.5"/><text x="822.4" y="1569.3">437353</text></g>
<g id="c15-437126"><ellipse cx="849.3" cy="1569.3" rx="12" ry="14.5"/><text x="849.3" y="1569.3">437126</text></g>
<g id="c15-452095"><ellipse cx="885.3" cy="1569.3" rx="12" ry="14.5"/><text x="885.3" y="1569.3">452095</text></g>
<g id="c15-452028"><ellipse cx="911.4" cy="1569.3" rx="12" ry="14.5"/><text x="911.4" y="1569.3">452028</text></g>
<g id="c15-437129"><ellipse cx="947.4" cy="1569.3" rx="12" ry="14.5"/><text x="947.4" y="1569.3">437129</text></g>
<g id="c15-437168"><ellipse cx="822.4" cy="1601.7" rx="12" ry="14.5"/><text x="822.4" y="1601.7">437168</text></g>
<g id="c15-437355"><ellipse cx="849.3" cy="1601.7" rx="12" ry="14.5"/><text x="849.3" y="1601.7">437355</text></g>
<g id="c15-437167"><ellipse cx="885.3" cy="1601.7" rx="12" ry="14.5"/><text x="885.3" y="1601.7">437167</text></g>
<g id="c15-441184"><ellipse cx="911.4" cy="1601.7" rx="12" ry="14.5"/><text x="911.4" y="1601.7">441184</text></g>
<g id="c15-437366"><ellipse cx="938.2" cy="1601.7" rx="12" ry="14.5"/><text x="938.2" y="1601.7">437366</text></g>
<g id="c15-441197"><ellipse cx="972" cy="1601.7" rx="12" ry="14.5"/><text x="972" y="1601.7">441197</text></g>
<g id="c15-437362"><ellipse cx="822.4" cy="1633.3" rx="12" ry="14.5"/><text x="822.4" y="1633.3">437362</text></g>
<g id="c15-437363"><ellipse cx="849.3" cy="1633.3" rx="12" ry="14.5"/><text x="849.3" y="1633.3">437363</text></g>
<g id="c15-441134"><ellipse cx="885.3" cy="1633.3" rx="12" ry="14.5"/><text x="885.3" y="1633.3">441134</text></g>
<g id="c15-441133"><ellipse cx="911.4" cy="1633.3" rx="12" ry="14.5"/><text x="911.4" y="1633.3">441133</text></g>
<g id="c15-452142"><ellipse cx="938.2" cy="1633.3" rx="12" ry="14.5"/><text x="938.2" y="1633.3">452142</text></g>
<g id="c15-444671"><ellipse cx="972" cy="1633.3" rx="12" ry="14.5"/><text x="972" y="1633.3">444671</text></g>
</g>

<g id="cluster-16" class="k16">
<rect class="sr" x="1209" y="1467.3" width="59" height="232.7" rx="10"/>
<rect class="dr" x="1150.6" y="1504.5" width="86.4" height="29" rx="14.5"/>
<rect class="dr" x="1098.9" y="1536" width="138.1" height="29" rx="14.5"/>
<rect class="dr" x="1241.1" y="1536" width="60.9" height="29" rx="14.5"/>
<rect class="dr" x="1040.8" y="1567.5" width="82.1" height="29" rx="14.5"/>
<rect class="dr" x="1241.1" y="1663" width="60.9" height="29" rx="14.5"/>
<rect class="lb" x="1201.8" y="1451.7" width="74.2" height="11"/><text class="lt" x="1238.9" y="1457.2">달성군 소재 유치원 관련</text>
<g id="c16-441185"><ellipse cx="1181.8" cy="1487.5" rx="12" ry="14.5"/><text x="1181.8" y="1487.5">441185</text></g>
<g id="c16-442247"><ellipse cx="1225" cy="1487.5" rx="12" ry="14.5"/><text x="1225" y="1487.5">442247</text></g>
<g id="c16-444858"><ellipse cx="1253.1" cy="1487.5" rx="12" ry="14.5"/><text x="1253.1" y="1487.5">444858</text></g>
<g id="c16-444878"><ellipse cx="1162.6" cy="1519" rx="12" ry="14.5"/><text x="1162.6" y="1519">444878</text></g>
<g id="c16-447892"><ellipse cx="1191.8" cy="1519" rx="12" ry="14.5"/><text x="1191.8" y="1519">447892</text></g>
<g id="c16-444876"><ellipse cx="1225" cy="1519" rx="12" ry="14.5"/><text x="1225" y="1519">444876</text></g>
<g id="c16-445811"><ellipse cx="1253.1" cy="1519" rx="12" ry="14.5"/><text x="1253.1" y="1519">445811</text></g>
<g id="c16-448071"><ellipse cx="1110.9" cy="1550.5" rx="12" ry="14.5"/><text x="1110.9" y="1550.5">448071</text></g>
<g id="c16-448599"><ellipse cx="1139" cy="1550.5" rx="12" ry="14.5"/><text x="1139" y="1550.5">448599</text></g>
<g id="c16-444897"><ellipse cx="1163.8" cy="1550.5" rx="12" ry="14.5"/><text x="1163.8" y="1550.5">444897</text></g>
<g id="c16-444889"><ellipse cx="1189" cy="1550.5" rx="12" ry="14.5"/><text x="1189" y="1550.5">444889</text></g>
<g id="c16-444868"><ellipse cx="1225" cy="1550.5" rx="12" ry="14.5"/><text x="1225" y="1550.5">444868</text></g>
<g id="c16-444884"><ellipse cx="1253.1" cy="1550.5" rx="12" ry="14.5"/><text x="1253.1" y="1550.5">444884</text></g>
<g id="c16-444892"><ellipse cx="1290" cy="1550.5" rx="12" ry="14.5"/><text x="1290" y="1550.5">444892</text></g>
<g id="c16-447435"><ellipse cx="1052.8" cy="1582" rx="12" ry="14.5"/><text x="1052.8" y="1582">447435</text></g>
<g id="c16-447437"><ellipse cx="1079.6" cy="1582" rx="12" ry="14.5"/><text x="1079.6" y="1582">447437</text></g>
<g id="c16-447438"><ellipse cx="1110.9" cy="1582" rx="12" ry="14.5"/><text x="1110.9" y="1582">447438</text></g>
<g id="c16-447052"><ellipse cx="1137.7" cy="1582" rx="12" ry="14.5"/><text x="1137.7" y="1582">447052</text></g>
<g id="c16-448077"><ellipse cx="1163" cy="1582" rx="12" ry="14.5"/><text x="1163" y="1582">448077</text></g>
<g id="c16-448087"><ellipse cx="1187.8" cy="1582" rx="12" ry="14.5"/><text x="1187.8" y="1582">448087</text></g>
<g id="c16-445614"><ellipse cx="1225" cy="1582" rx="12" ry="14.5"/><text x="1225" y="1582">445614</text></g>
<g id="c16-445586"><ellipse cx="1253.1" cy="1582" rx="12" ry="14.5"/><text x="1253.1" y="1582">445586</text></g>
<g id="c16-445598"><ellipse cx="1225" cy="1613.5" rx="12" ry="14.5"/><text x="1225" y="1613.5">445598</text></g>
<g id="c16-444881"><ellipse cx="1253.1" cy="1613.5" rx="12" ry="14.5"/><text x="1253.1" y="1613.5">444881</text></g>
<g id="c16-445627"><ellipse cx="1225" cy="1645" rx="12" ry="14.5"/><text x="1225" y="1645">445627</text></g>
<g id="c16-444880"><ellipse cx="1253.1" cy="1645" rx="12" ry="14.5"/><text x="1253.1" y="1645">444880</text></g>
<g id="c16-448081"><ellipse cx="1187.8" cy="1677.5" rx="12" ry="14.5"/><text x="1187.8" y="1677.5">448081</text></g>
<g id="c16-448038"><ellipse cx="1225" cy="1677.5" rx="12" ry="14.5"/><text x="1225" y="1677.5">448038</text></g>
<g id="c16-448075"><ellipse cx="1253.1" cy="1677.5" rx="12" ry="14.5"/><text x="1253.1" y="1677.5">448075</text></g>
<g id="c16-448295"><ellipse cx="1290" cy="1677.5" rx="12" ry="14.5"/><text x="1290" y="1677.5">448295</text></g>
</g>

<g id="connectors">
<path class="e a" d="M83.3,207.5L70.7,207.5"/>
<path class="e a" d="M135,239L144.7,239"/>
<path class="e a" d="M168.7,239L173,239"/>
<path class="e a" d="M135,270.5L144.7,270.5"/>
<path class="e a" d="M132.5,279.4L147.2,293.1"/>
<path class="e a" d="M83.3,302L70.7,302"/>
<path class="e a" d="M475,169.3L484.7,169.3"/>
<path class="e a" d="M508.7,169.3L519.7,169.3"/>
<path class="e a" d="M475,232.3L489.7,232.3"/>
<path class="e" d="M423.7,547.3L411.3,547.3"/>
<path class="e a" d="M475,610.3L484.7,610.3"/>
<path class="e a" d="M848.7,159.7L836,159.7"/>
<path class="e a" d="M851.5,167.5L833.2,183.1"/>
<path class="e a" d="M897.7,190.9L909,190.9"/>
<path class="e a" d="M848.7,222.1L836,222.1"/>
<path class="e a" d="M851.5,229.9L833.2,245.5"/>
<path class="e a" d="M897.7,222.1L909,222.1"/>
<path class="e a" d="M897.7,253.3L909,253.3"/>
<path class="e a" d="M848.7,284.5L836,284.5"/>
<path class="e a" d="M897.7,315.7L909,315.7"/>
<path class="e a" d="M848.7,378.1L836,378.1"/>
<path class="e a" d="M897.7,409.3L909,409.3"/>
<path class="e a" d="M848.7,440.5L836,440.5"/>
<path class="e a" d="M897.7,440.5L909,440.5"/>
<path class="e a" d="M1106.3,165.7L1097,165.7"/>
<path class="e a" d="M1110.2,154.3L1102.4,143.1"/>
<path class="e a" d="M1130.3,165.7L1147.3,165.7"/>
<path class="e a" d="M1227.7,165.7L1237.3,165.7"/>
<path class="e a" d="M1227.7,196.8L1237.3,196.8"/>
<path class="e a" d="M1337.3,196.8L1347.3,196.8"/>
<path class="e a" d="M1176.3,227.9L1167,227.9"/>
<path class="e a" d="M1176.3,259L1167,259"/>
<path class="e a" d="M1176.3,290.1L1167,290.1"/>
<path class="e a" d="M1227.7,383.4L1237.3,383.4"/>
<path class="e" d="M1225.1,375.9L1248.3,357.5"/>
<path class="e a" d="M1176.3,414.5L1167,414.5"/>
<path class="e a" d="M1176.3,476.7L1167,476.7"/>
<path class="e a" d="M114.3,469.3L103.7,469.3"/>
<path class="e a" d="M114.3,562.3L103.7,562.3"/>
<path class="e a" d="M114.3,779.3L103.7,779.3"/>
<path class="e a" d="M114.3,810.3L103.7,810.3"/>
<path class="e a" d="M793,590.5L804.7,590.5"/>
<path class="e a" d="M828.7,590.5L939,590.5"/>
<path class="e a" d="M989,590.5L1001.3,590.5"/>
<path class="e a" d="M742,621.9L728,621.9"/>
<path class="e a" d="M793,621.9L804.7,621.9"/>
<path class="e a" d="M793,653.3L804.7,653.3"/>
<path class="e a" d="M793,684.7L808,684.7"/>
<path class="e a" d="M989,716.1L1001.3,716.1"/>
<path class="e a" d="M939,778.9L924.3,778.9"/>
<path class="e a" d="M1188,722L1178.7,722"/>
<path class="e a" d="M1238.7,878.5L1248,878.5"/>
<path class="e a" d="M1238.7,909.8L1248,909.8"/>
<path class="e a" d="M490.3,821L478,821"/>
<path class="e" d="M491.2,825.6L451.1,842.1"/>
<path class="e" d="M494.5,830.1L461.1,869.4"/>
<path class="e a" d="M415,832.2L415,826.2"/>
<path class="e a" d="M440,832.2L440,826.2"/>
<path class="e a" d="M374.7,845L372,845"/>
<path class="e a" d="M310.5,831.7L323.5,838.8"/>
<path class="e a" d="M310,861.6L324.2,852.2"/>
<path class="e a" d="M440.7,879.3L436.3,879.3"/>
<path class="e a" d="M541.3,853L551.3,853"/>
<path class="e a" d="M541.3,884L551.3,884"/>
<path class="e a" d="M490.3,919L478,919"/>
<path class="e a" d="M490.3,950.5L478,950.5"/>
<path class="e" d="M784.3,1069.2L769.3,1069.2"/>
<path class="e" d="M784.3,1100.3L769.3,1100.3"/>
<path class="e a" d="M97.7,1042L86.7,1042"/>
<path class="e a" d="M100.3,1049.4L77.1,1067.6"/>
<path class="e a" d="M148.3,1073L159.5,1073"/>
<path class="e a" d="M97.7,1104L86.7,1104"/>
<path class="e a" d="M148.3,1104L159.5,1104"/>
<path class="e a" d="M97.7,1197L87.7,1197"/>
<path class="e a" d="M148.3,1197L159.5,1197"/>
<path class="e a" d="M431.6,1226.3L418.9,1226.3"/>
<path class="e a" d="M480.7,1226.3L491,1226.3"/>
<path class="e a" d="M515,1226.3L526,1226.3"/>
<path class="e a" d="M480.7,1257.8L491,1257.8"/>
<path class="e a" d="M515,1257.8L526,1257.8"/>
<path class="e" d="M431.6,1289L418.9,1289"/>
<path class="e" d="M1202,1188.2L1228.5,1188.2"/>
<path class="e a" d="M108,1488.3L96.3,1488.3"/>
<path class="e a" d="M108,1519.5L96.3,1519.5"/>
<path class="e a" d="M108,1550.7L96.3,1550.7"/>
<path class="e a" d="M158.5,1550.7L170,1550.7"/>
<path class="e a" d="M108,1582L96.3,1582"/>
<path class="e a" d="M368.3,1525L355.7,1525"/>
<path class="e" d="M371.2,1532.8L352.8,1548.7"/>
<path class="e a" d="M419.7,1525L429.3,1525"/>
<path class="e" d="M416.5,1533.3L432.5,1548.2"/>
<path class="e a" d="M449.6,1547.8L461.2,1535.7"/>
<path class="e a" d="M453.3,1556.5L462.5,1556.5"/>
<path class="e a" d="M486.5,1556.5L495,1556.5"/>
<path class="e a" d="M368.3,1588L355.7,1588"/>
<path class="e a" d="M419.7,1588L429.3,1588"/>
<path class="e a" d="M486.5,1588L495,1588"/>
<path class="e" d="M419.7,1619.5L429.3,1619.5"/>
<path class="e a" d="M450,1611.2L465.8,1596.3"/>
<path class="e a" d="M453.3,1619.5L464,1619.5"/>
<path class="e a" d="M488,1619.5L496.5,1619.5"/>
<path class="e a" d="M550,1619.5L560,1619.5"/>
<path class="e" d="M449.7,1628.1L463.6,1642.4"/>
<path class="e a" d="M538.5,1651L547.5,1651"/>
<path class="e a" d="M368.3,1682.5L355.7,1682.5"/>
<path class="e a" d="M716,1551.6L735.9,1544.2"/>
<path class="e" d="M716,1560.6L735.9,1568.3"/>
<path class="e" d="M704.2,1570.5L704.2,1602.2"/>
<path class="e a" d="M716.2,1616.7L732.3,1616.7"/>
<path class="e a" d="M759.1,1572L810.4,1570"/>
<path class="e a" d="M861.3,1569.3L873.3,1569.3"/>
<path class="e a" d="M923.4,1569.3L935.4,1569.3"/>
<path class="e a" d="M861.3,1601.7L873.3,1601.7"/>
<path class="e a" d="M950.2,1601.7L960,1601.7"/>
<path class="e a" d="M861.3,1633.3L873.3,1633.3"/>
<path class="e a" d="M950.2,1633.3L960,1633.3"/>
<path class="e a" d="M1193.8,1487.5L1213,1487.5"/>
<path class="e a" d="M1213,1519L1203.8,1519"/>
<path class="e a" d="M1213,1550.5L1201,1550.5"/>
<path class="e a" d="M1265.1,1550.5L1278,1550.5"/>
<path class="e a" d="M1098.9,1582L1091.6,1582"/>
<path class="e" d="M1197,1574.2L1215.8,1558.3"/>
<path class="e a" d="M1213,1677.5L1199.8,1677.5"/>
<path class="e a" d="M1265.1,1677.5L1278,1677.5"/>
</g>
</svg>
